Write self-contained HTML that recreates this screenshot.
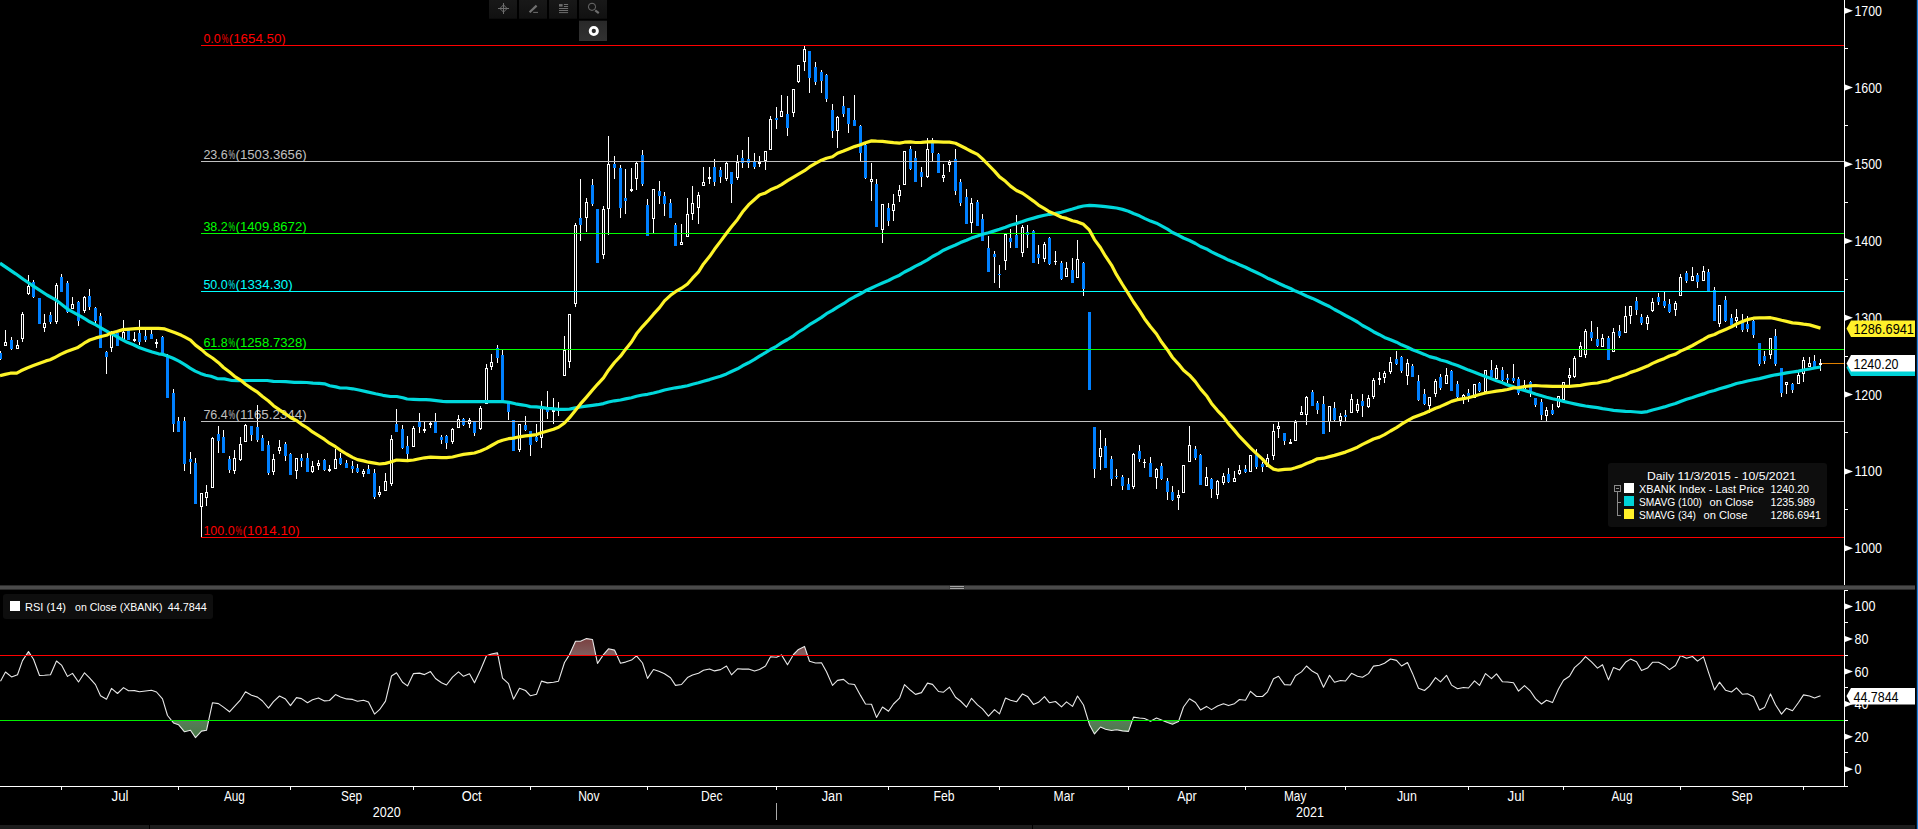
<!DOCTYPE html><html><head><meta charset="utf-8"><title>XBANK Index</title>
<style>html,body{margin:0;padding:0;background:#000;overflow:hidden}svg{display:block}text{font-family:"Liberation Sans",sans-serif}</style></head><body>
<svg width="1918" height="829" viewBox="0 0 1918 829">
<rect width="1918" height="829" fill="#000"/>
<defs><linearGradient id="gr" gradientUnits="userSpaceOnUse" x1="0" y1="636" x2="0" y2="656"><stop offset="0" stop-color="#7a3c3c"/><stop offset="1" stop-color="#806060"/></linearGradient><linearGradient id="gg" gradientUnits="userSpaceOnUse" x1="0" y1="720" x2="0" y2="740"><stop offset="0" stop-color="#5a7c5a"/><stop offset="1" stop-color="#427a42"/></linearGradient></defs>
<defs><linearGradient id="bt" x1="0" y1="0" x2="0" y2="1"><stop offset="0" stop-color="#181818"/><stop offset="1" stop-color="#111"/></linearGradient><linearGradient id="bt2" x1="0" y1="0" x2="0" y2="1"><stop offset="0" stop-color="#292929"/><stop offset="1" stop-color="#313131"/></linearGradient></defs>
<g>
<rect x="489" y="0" width="28" height="18.7" fill="url(#bt)"/>
<rect x="519" y="0" width="28" height="18.7" fill="url(#bt)"/>
<rect x="549" y="0" width="28" height="18.7" fill="url(#bt)"/>
<rect x="579" y="0" width="28" height="18.7" fill="url(#bt)"/>
<rect x="579" y="20.7" width="28" height="20.3" fill="url(#bt2)"/>
<g stroke="#6e6e6e" fill="none" stroke-width="1">
<path d="M503.5 3v11M498 8.5h11M503.5 4.9l3.6 3.6l-3.6 3.6l-3.6-3.6z"/>
<path d="M529.6 12.2l7-6.6" stroke-width="2.2" stroke="#707070"/><path d="M533.2 12.4h4.8"/>
<path d="M563.9 4.5h4.2M563.9 6.5h4.2M559 8.5h9.1M559 10.5h9.1M559 12.6h9.1"/><rect x="559" y="4.1" width="3.6" height="2.5" fill="#6e6e6e" stroke="none"/>
<circle cx="592" cy="6.8" r="3.6"/><path d="M595.2 10.4l3.6 2.8" stroke-width="2.1"/>
</g>
<circle cx="593.8" cy="31" r="3.6" fill="none" stroke="#fff" stroke-width="2.9"/>
</g>
<g font-size="12.5px">
<text y="43" fill="#ff0000"><tspan x="203.4">0.0</tspan><tspan x="221.7" textLength="6.6" lengthAdjust="spacingAndGlyphs">%</tspan><tspan x="228.7" textLength="57.1" lengthAdjust="spacingAndGlyphs">(1654.50)</tspan></text>
<text y="159" fill="#c0c0c0"><tspan x="203.4">23.6</tspan><tspan x="228.6" textLength="6.6" lengthAdjust="spacingAndGlyphs">%</tspan><tspan x="235.6" textLength="71.0" lengthAdjust="spacingAndGlyphs">(1503.3656)</tspan></text>
<text y="231" fill="#00ff00"><tspan x="203.4">38.2</tspan><tspan x="228.6" textLength="6.6" lengthAdjust="spacingAndGlyphs">%</tspan><tspan x="235.6" textLength="71.0" lengthAdjust="spacingAndGlyphs">(1409.8672)</tspan></text>
<text y="289" fill="#00ffff"><tspan x="203.4">50.0</tspan><tspan x="228.6" textLength="6.6" lengthAdjust="spacingAndGlyphs">%</tspan><tspan x="235.6" textLength="57.1" lengthAdjust="spacingAndGlyphs">(1334.30)</tspan></text>
<text y="347" fill="#00ff00"><tspan x="203.4">61.8</tspan><tspan x="228.6" textLength="6.6" lengthAdjust="spacingAndGlyphs">%</tspan><tspan x="235.6" textLength="71.0" lengthAdjust="spacingAndGlyphs">(1258.7328)</tspan></text>
<text y="419" fill="#c0c0c0"><tspan x="203.4">76.4</tspan><tspan x="228.6" textLength="6.6" lengthAdjust="spacingAndGlyphs">%</tspan><tspan x="235.6" textLength="71.0" lengthAdjust="spacingAndGlyphs">(1165.2344)</tspan></text>
<text y="535" fill="#ff0000"><tspan x="203.4">100.0</tspan><tspan x="235.6" textLength="6.6" lengthAdjust="spacingAndGlyphs">%</tspan><tspan x="242.6" textLength="57.1" lengthAdjust="spacingAndGlyphs">(1014.10)</tspan></text>
</g>
<g shape-rendering="crispEdges">
<rect x="0" y="351" width="1" height="9" fill="#fff"/>
<rect x="-1" y="353" width="3" height="6" fill="#0080ff"/>
<rect x="5" y="330" width="1" height="12" fill="#fff"/>
<rect x="4" y="342" width="3" height="4" fill="#fff"/>
<rect x="5" y="343" width="1" height="2" fill="#000"/>
<rect x="11" y="337" width="1" height="13" fill="#fff"/>
<rect x="10" y="340" width="3" height="9" fill="#0080ff"/>
<rect x="17" y="340" width="1" height="5" fill="#fff"/>
<rect x="16" y="345" width="3" height="4" fill="#fff"/>
<rect x="17" y="346" width="1" height="2" fill="#000"/>
<rect x="22" y="312" width="1" height="2" fill="#fff"/>
<rect x="22" y="339" width="1" height="3" fill="#fff"/>
<rect x="21" y="314" width="3" height="25" fill="#fff"/>
<rect x="22" y="315" width="1" height="23" fill="#000"/>
<rect x="28" y="275" width="1" height="11" fill="#fff"/>
<rect x="28" y="294" width="1" height="1" fill="#fff"/>
<rect x="27" y="286" width="3" height="8" fill="#fff"/>
<rect x="28" y="287" width="1" height="6" fill="#000"/>
<rect x="33" y="280" width="1" height="18" fill="#fff"/>
<rect x="32" y="282" width="3" height="15" fill="#0080ff"/>
<rect x="39" y="298" width="1" height="26" fill="#fff"/>
<rect x="38" y="298" width="3" height="26" fill="#0080ff"/>
<rect x="44" y="314" width="1" height="9" fill="#fff"/>
<rect x="44" y="328" width="1" height="4" fill="#fff"/>
<rect x="43" y="323" width="3" height="5" fill="#fff"/>
<rect x="44" y="324" width="1" height="3" fill="#000"/>
<rect x="50" y="312" width="1" height="12" fill="#fff"/>
<rect x="49" y="315" width="3" height="7" fill="#0080ff"/>
<rect x="56" y="283" width="1" height="2" fill="#fff"/>
<rect x="56" y="322" width="1" height="2" fill="#fff"/>
<rect x="55" y="285" width="3" height="37" fill="#fff"/>
<rect x="56" y="286" width="1" height="35" fill="#000"/>
<rect x="61" y="274" width="1" height="18" fill="#fff"/>
<rect x="60" y="277" width="3" height="15" fill="#0080ff"/>
<rect x="67" y="281" width="1" height="32" fill="#fff"/>
<rect x="66" y="283" width="3" height="29" fill="#0080ff"/>
<rect x="72" y="297" width="1" height="7" fill="#fff"/>
<rect x="71" y="304" width="3" height="5" fill="#fff"/>
<rect x="72" y="305" width="1" height="3" fill="#000"/>
<rect x="78" y="301" width="1" height="25" fill="#fff"/>
<rect x="77" y="302" width="3" height="19" fill="#0080ff"/>
<rect x="84" y="296" width="1" height="1" fill="#fff"/>
<rect x="84" y="311" width="1" height="2" fill="#fff"/>
<rect x="83" y="297" width="3" height="14" fill="#fff"/>
<rect x="84" y="298" width="1" height="12" fill="#000"/>
<rect x="89" y="289" width="1" height="21" fill="#fff"/>
<rect x="88" y="296" width="3" height="11" fill="#0080ff"/>
<rect x="95" y="307" width="1" height="16" fill="#fff"/>
<rect x="94" y="308" width="3" height="13" fill="#0080ff"/>
<rect x="100" y="313" width="1" height="35" fill="#fff"/>
<rect x="99" y="316" width="3" height="32" fill="#0080ff"/>
<rect x="106" y="351" width="1" height="23" fill="#fff"/>
<rect x="105" y="352" width="3" height="5" fill="#0080ff"/>
<rect x="111" y="331" width="1" height="2" fill="#fff"/>
<rect x="111" y="348" width="1" height="4" fill="#fff"/>
<rect x="110" y="333" width="3" height="15" fill="#fff"/>
<rect x="111" y="334" width="1" height="13" fill="#000"/>
<rect x="117" y="333" width="1" height="13" fill="#fff"/>
<rect x="116" y="333" width="3" height="13" fill="#0080ff"/>
<rect x="123" y="320" width="1" height="12" fill="#fff"/>
<rect x="122" y="332" width="3" height="8" fill="#fff"/>
<rect x="123" y="333" width="1" height="6" fill="#000"/>
<rect x="128" y="330" width="1" height="10" fill="#fff"/>
<rect x="127" y="330" width="3" height="10" fill="#0080ff"/>
<rect x="134" y="332" width="1" height="7" fill="#fff"/>
<rect x="134" y="341" width="1" height="1" fill="#fff"/>
<rect x="133" y="339" width="3" height="2" fill="#fff"/>
<rect x="139" y="320" width="1" height="25" fill="#fff"/>
<rect x="138" y="333" width="3" height="9" fill="#0080ff"/>
<rect x="145" y="330" width="1" height="12" fill="#fff"/>
<rect x="144" y="336" width="3" height="4" fill="#0080ff"/>
<rect x="151" y="330" width="1" height="9" fill="#fff"/>
<rect x="150" y="334" width="3" height="5" fill="#0080ff"/>
<rect x="156" y="339" width="1" height="3" fill="#fff"/>
<rect x="156" y="344" width="1" height="4" fill="#fff"/>
<rect x="155" y="342" width="3" height="2" fill="#fff"/>
<rect x="162" y="336" width="1" height="19" fill="#fff"/>
<rect x="161" y="337" width="3" height="18" fill="#0080ff"/>
<rect x="167" y="354" width="1" height="44" fill="#fff"/>
<rect x="166" y="355" width="3" height="43" fill="#0080ff"/>
<rect x="173" y="389" width="1" height="43" fill="#fff"/>
<rect x="172" y="393" width="3" height="31" fill="#0080ff"/>
<rect x="178" y="417" width="1" height="15" fill="#fff"/>
<rect x="177" y="421" width="3" height="11" fill="#0080ff"/>
<rect x="184" y="417" width="1" height="54" fill="#fff"/>
<rect x="183" y="421" width="3" height="43" fill="#0080ff"/>
<rect x="190" y="452" width="1" height="22" fill="#fff"/>
<rect x="189" y="459" width="3" height="3" fill="#0080ff"/>
<rect x="195" y="458" width="1" height="46" fill="#fff"/>
<rect x="194" y="463" width="3" height="41" fill="#0080ff"/>
<rect x="201" y="507" width="1" height="30" fill="#fff"/>
<rect x="200" y="493" width="3" height="14" fill="#fff"/>
<rect x="201" y="494" width="1" height="12" fill="#000"/>
<rect x="206" y="485" width="1" height="7" fill="#fff"/>
<rect x="206" y="498" width="1" height="8" fill="#fff"/>
<rect x="205" y="492" width="3" height="6" fill="#fff"/>
<rect x="206" y="493" width="1" height="4" fill="#000"/>
<rect x="212" y="437" width="1" height="1" fill="#fff"/>
<rect x="211" y="438" width="3" height="50" fill="#fff"/>
<rect x="212" y="439" width="1" height="48" fill="#000"/>
<rect x="218" y="426" width="1" height="27" fill="#fff"/>
<rect x="217" y="434" width="3" height="7" fill="#0080ff"/>
<rect x="223" y="430" width="1" height="23" fill="#fff"/>
<rect x="222" y="437" width="3" height="16" fill="#0080ff"/>
<rect x="229" y="456" width="1" height="17" fill="#fff"/>
<rect x="228" y="459" width="3" height="11" fill="#0080ff"/>
<rect x="234" y="450" width="1" height="8" fill="#fff"/>
<rect x="234" y="471" width="1" height="3" fill="#fff"/>
<rect x="233" y="458" width="3" height="13" fill="#fff"/>
<rect x="234" y="459" width="1" height="11" fill="#000"/>
<rect x="240" y="437" width="1" height="7" fill="#fff"/>
<rect x="240" y="460" width="1" height="1" fill="#fff"/>
<rect x="239" y="444" width="3" height="16" fill="#fff"/>
<rect x="240" y="445" width="1" height="14" fill="#000"/>
<rect x="245" y="424" width="1" height="1" fill="#fff"/>
<rect x="244" y="425" width="3" height="17" fill="#fff"/>
<rect x="245" y="426" width="1" height="15" fill="#000"/>
<rect x="251" y="426" width="1" height="15" fill="#fff"/>
<rect x="250" y="426" width="3" height="9" fill="#0080ff"/>
<rect x="257" y="405" width="1" height="37" fill="#fff"/>
<rect x="256" y="427" width="3" height="13" fill="#0080ff"/>
<rect x="262" y="435" width="1" height="16" fill="#fff"/>
<rect x="261" y="438" width="3" height="13" fill="#0080ff"/>
<rect x="268" y="441" width="1" height="34" fill="#fff"/>
<rect x="267" y="445" width="3" height="28" fill="#0080ff"/>
<rect x="273" y="454" width="1" height="5" fill="#fff"/>
<rect x="273" y="472" width="1" height="3" fill="#fff"/>
<rect x="272" y="459" width="3" height="13" fill="#fff"/>
<rect x="273" y="460" width="1" height="11" fill="#000"/>
<rect x="279" y="440" width="1" height="7" fill="#fff"/>
<rect x="279" y="451" width="1" height="3" fill="#fff"/>
<rect x="278" y="447" width="3" height="4" fill="#fff"/>
<rect x="279" y="448" width="1" height="2" fill="#000"/>
<rect x="285" y="442" width="1" height="19" fill="#fff"/>
<rect x="284" y="444" width="3" height="12" fill="#0080ff"/>
<rect x="290" y="453" width="1" height="22" fill="#fff"/>
<rect x="289" y="454" width="3" height="21" fill="#0080ff"/>
<rect x="296" y="471" width="1" height="8" fill="#fff"/>
<rect x="295" y="458" width="3" height="13" fill="#fff"/>
<rect x="296" y="459" width="1" height="11" fill="#000"/>
<rect x="301" y="454" width="1" height="13" fill="#fff"/>
<rect x="300" y="458" width="3" height="3" fill="#0080ff"/>
<rect x="307" y="453" width="1" height="19" fill="#fff"/>
<rect x="306" y="458" width="3" height="14" fill="#0080ff"/>
<rect x="312" y="461" width="1" height="5" fill="#fff"/>
<rect x="312" y="472" width="1" height="1" fill="#fff"/>
<rect x="311" y="466" width="3" height="6" fill="#fff"/>
<rect x="312" y="467" width="1" height="4" fill="#000"/>
<rect x="318" y="460" width="1" height="3" fill="#fff"/>
<rect x="318" y="466" width="1" height="4" fill="#fff"/>
<rect x="317" y="463" width="3" height="3" fill="#fff"/>
<rect x="318" y="464" width="1" height="1" fill="#000"/>
<rect x="324" y="459" width="1" height="12" fill="#fff"/>
<rect x="323" y="460" width="3" height="10" fill="#0080ff"/>
<rect x="329" y="465" width="1" height="4" fill="#fff"/>
<rect x="329" y="471" width="1" height="1" fill="#fff"/>
<rect x="328" y="469" width="3" height="2" fill="#fff"/>
<rect x="335" y="449" width="1" height="10" fill="#fff"/>
<rect x="334" y="459" width="3" height="10" fill="#fff"/>
<rect x="335" y="460" width="1" height="8" fill="#000"/>
<rect x="340" y="453" width="1" height="12" fill="#fff"/>
<rect x="339" y="458" width="3" height="6" fill="#0080ff"/>
<rect x="346" y="460" width="1" height="8" fill="#fff"/>
<rect x="345" y="463" width="3" height="5" fill="#0080ff"/>
<rect x="352" y="461" width="1" height="12" fill="#fff"/>
<rect x="351" y="466" width="3" height="3" fill="#0080ff"/>
<rect x="357" y="464" width="1" height="9" fill="#fff"/>
<rect x="356" y="468" width="3" height="4" fill="#0080ff"/>
<rect x="363" y="469" width="1" height="2" fill="#fff"/>
<rect x="363" y="474" width="1" height="3" fill="#fff"/>
<rect x="362" y="471" width="3" height="3" fill="#fff"/>
<rect x="363" y="472" width="1" height="1" fill="#000"/>
<rect x="368" y="465" width="1" height="9" fill="#fff"/>
<rect x="367" y="469" width="3" height="5" fill="#0080ff"/>
<rect x="374" y="469" width="1" height="30" fill="#fff"/>
<rect x="373" y="473" width="3" height="24" fill="#0080ff"/>
<rect x="379" y="486" width="1" height="6" fill="#fff"/>
<rect x="379" y="495" width="1" height="2" fill="#fff"/>
<rect x="378" y="492" width="3" height="3" fill="#fff"/>
<rect x="379" y="493" width="1" height="1" fill="#000"/>
<rect x="385" y="473" width="1" height="8" fill="#fff"/>
<rect x="384" y="481" width="3" height="10" fill="#fff"/>
<rect x="385" y="482" width="1" height="8" fill="#000"/>
<rect x="391" y="435" width="1" height="4" fill="#fff"/>
<rect x="391" y="484" width="1" height="2" fill="#fff"/>
<rect x="390" y="439" width="3" height="45" fill="#fff"/>
<rect x="391" y="440" width="1" height="43" fill="#000"/>
<rect x="396" y="409" width="1" height="23" fill="#fff"/>
<rect x="395" y="424" width="3" height="8" fill="#0080ff"/>
<rect x="402" y="425" width="1" height="24" fill="#fff"/>
<rect x="401" y="429" width="3" height="19" fill="#0080ff"/>
<rect x="407" y="436" width="1" height="23" fill="#fff"/>
<rect x="406" y="446" width="3" height="8" fill="#0080ff"/>
<rect x="413" y="426" width="1" height="2" fill="#fff"/>
<rect x="412" y="428" width="3" height="19" fill="#fff"/>
<rect x="413" y="429" width="1" height="17" fill="#000"/>
<rect x="419" y="413" width="1" height="20" fill="#fff"/>
<rect x="418" y="422" width="3" height="5" fill="#0080ff"/>
<rect x="424" y="422" width="1" height="7" fill="#fff"/>
<rect x="424" y="431" width="1" height="2" fill="#fff"/>
<rect x="423" y="429" width="3" height="2" fill="#fff"/>
<rect x="430" y="421" width="1" height="2" fill="#fff"/>
<rect x="430" y="425" width="1" height="3" fill="#fff"/>
<rect x="429" y="423" width="3" height="2" fill="#fff"/>
<rect x="435" y="413" width="1" height="20" fill="#fff"/>
<rect x="434" y="422" width="3" height="11" fill="#0080ff"/>
<rect x="441" y="435" width="1" height="9" fill="#fff"/>
<rect x="440" y="437" width="3" height="3" fill="#0080ff"/>
<rect x="446" y="435" width="1" height="14" fill="#fff"/>
<rect x="445" y="436" width="3" height="7" fill="#0080ff"/>
<rect x="452" y="428" width="1" height="1" fill="#fff"/>
<rect x="452" y="442" width="1" height="2" fill="#fff"/>
<rect x="451" y="429" width="3" height="13" fill="#fff"/>
<rect x="452" y="430" width="1" height="11" fill="#000"/>
<rect x="458" y="415" width="1" height="4" fill="#fff"/>
<rect x="457" y="419" width="3" height="9" fill="#fff"/>
<rect x="458" y="420" width="1" height="7" fill="#000"/>
<rect x="463" y="418" width="1" height="8" fill="#fff"/>
<rect x="462" y="419" width="3" height="6" fill="#0080ff"/>
<rect x="469" y="418" width="1" height="2" fill="#fff"/>
<rect x="469" y="424" width="1" height="4" fill="#fff"/>
<rect x="468" y="420" width="3" height="4" fill="#fff"/>
<rect x="469" y="421" width="1" height="2" fill="#000"/>
<rect x="474" y="422" width="1" height="14" fill="#fff"/>
<rect x="473" y="422" width="3" height="11" fill="#0080ff"/>
<rect x="480" y="406" width="1" height="2" fill="#fff"/>
<rect x="480" y="429" width="1" height="1" fill="#fff"/>
<rect x="479" y="408" width="3" height="21" fill="#fff"/>
<rect x="480" y="409" width="1" height="19" fill="#000"/>
<rect x="486" y="364" width="1" height="4" fill="#fff"/>
<rect x="485" y="368" width="3" height="36" fill="#fff"/>
<rect x="486" y="369" width="1" height="34" fill="#000"/>
<rect x="491" y="354" width="1" height="8" fill="#fff"/>
<rect x="491" y="367" width="1" height="3" fill="#fff"/>
<rect x="490" y="362" width="3" height="5" fill="#fff"/>
<rect x="491" y="363" width="1" height="3" fill="#000"/>
<rect x="497" y="345" width="1" height="18" fill="#fff"/>
<rect x="496" y="348" width="3" height="10" fill="#0080ff"/>
<rect x="502" y="350" width="1" height="50" fill="#fff"/>
<rect x="501" y="355" width="3" height="45" fill="#0080ff"/>
<rect x="508" y="403" width="1" height="17" fill="#fff"/>
<rect x="507" y="403" width="3" height="9" fill="#0080ff"/>
<rect x="513" y="420" width="1" height="31" fill="#fff"/>
<rect x="512" y="420" width="3" height="31" fill="#0080ff"/>
<rect x="519" y="450" width="1" height="2" fill="#fff"/>
<rect x="518" y="424" width="3" height="26" fill="#fff"/>
<rect x="519" y="425" width="1" height="24" fill="#000"/>
<rect x="525" y="416" width="1" height="15" fill="#fff"/>
<rect x="524" y="425" width="3" height="5" fill="#0080ff"/>
<rect x="530" y="431" width="1" height="25" fill="#fff"/>
<rect x="529" y="431" width="3" height="14" fill="#0080ff"/>
<rect x="536" y="424" width="1" height="18" fill="#fff"/>
<rect x="535" y="437" width="3" height="4" fill="#0080ff"/>
<rect x="541" y="401" width="1" height="7" fill="#fff"/>
<rect x="541" y="438" width="1" height="10" fill="#fff"/>
<rect x="540" y="408" width="3" height="30" fill="#fff"/>
<rect x="541" y="409" width="1" height="28" fill="#000"/>
<rect x="547" y="391" width="1" height="28" fill="#fff"/>
<rect x="546" y="410" width="3" height="2" fill="#0080ff"/>
<rect x="553" y="398" width="1" height="12" fill="#fff"/>
<rect x="553" y="412" width="1" height="12" fill="#fff"/>
<rect x="552" y="410" width="3" height="2" fill="#fff"/>
<rect x="558" y="402" width="1" height="6" fill="#fff"/>
<rect x="558" y="411" width="1" height="5" fill="#fff"/>
<rect x="557" y="408" width="3" height="3" fill="#fff"/>
<rect x="558" y="409" width="1" height="1" fill="#000"/>
<rect x="564" y="336" width="1" height="14" fill="#fff"/>
<rect x="563" y="350" width="3" height="26" fill="#fff"/>
<rect x="564" y="351" width="1" height="24" fill="#000"/>
<rect x="569" y="362" width="1" height="6" fill="#fff"/>
<rect x="568" y="314" width="3" height="48" fill="#fff"/>
<rect x="569" y="315" width="1" height="46" fill="#000"/>
<rect x="575" y="223" width="1" height="2" fill="#fff"/>
<rect x="575" y="304" width="1" height="3" fill="#fff"/>
<rect x="574" y="225" width="3" height="79" fill="#fff"/>
<rect x="575" y="226" width="1" height="77" fill="#000"/>
<rect x="580" y="179" width="1" height="62" fill="#fff"/>
<rect x="579" y="218" width="3" height="7" fill="#0080ff"/>
<rect x="586" y="198" width="1" height="4" fill="#fff"/>
<rect x="586" y="218" width="1" height="14" fill="#fff"/>
<rect x="585" y="202" width="3" height="16" fill="#fff"/>
<rect x="586" y="203" width="1" height="14" fill="#000"/>
<rect x="592" y="179" width="1" height="27" fill="#fff"/>
<rect x="591" y="185" width="3" height="19" fill="#0080ff"/>
<rect x="597" y="209" width="1" height="54" fill="#fff"/>
<rect x="596" y="209" width="3" height="54" fill="#0080ff"/>
<rect x="603" y="206" width="1" height="3" fill="#fff"/>
<rect x="603" y="255" width="1" height="4" fill="#fff"/>
<rect x="602" y="209" width="3" height="46" fill="#fff"/>
<rect x="603" y="210" width="1" height="44" fill="#000"/>
<rect x="608" y="136" width="1" height="28" fill="#fff"/>
<rect x="608" y="209" width="1" height="26" fill="#fff"/>
<rect x="607" y="164" width="3" height="45" fill="#fff"/>
<rect x="608" y="165" width="1" height="43" fill="#000"/>
<rect x="614" y="156" width="1" height="23" fill="#fff"/>
<rect x="613" y="164" width="3" height="4" fill="#0080ff"/>
<rect x="620" y="165" width="1" height="53" fill="#fff"/>
<rect x="619" y="168" width="3" height="40" fill="#0080ff"/>
<rect x="625" y="169" width="1" height="45" fill="#fff"/>
<rect x="624" y="198" width="3" height="3" fill="#0080ff"/>
<rect x="631" y="168" width="1" height="21" fill="#fff"/>
<rect x="631" y="191" width="1" height="1" fill="#fff"/>
<rect x="630" y="189" width="3" height="2" fill="#fff"/>
<rect x="636" y="162" width="1" height="1" fill="#fff"/>
<rect x="636" y="179" width="1" height="11" fill="#fff"/>
<rect x="635" y="163" width="3" height="16" fill="#fff"/>
<rect x="636" y="164" width="1" height="14" fill="#000"/>
<rect x="642" y="150" width="1" height="36" fill="#fff"/>
<rect x="641" y="155" width="3" height="29" fill="#0080ff"/>
<rect x="647" y="199" width="1" height="37" fill="#fff"/>
<rect x="646" y="205" width="3" height="31" fill="#0080ff"/>
<rect x="653" y="219" width="1" height="14" fill="#fff"/>
<rect x="652" y="189" width="3" height="30" fill="#fff"/>
<rect x="653" y="190" width="1" height="28" fill="#000"/>
<rect x="659" y="181" width="1" height="23" fill="#fff"/>
<rect x="658" y="191" width="3" height="5" fill="#0080ff"/>
<rect x="664" y="192" width="1" height="24" fill="#fff"/>
<rect x="663" y="196" width="3" height="8" fill="#0080ff"/>
<rect x="670" y="199" width="1" height="19" fill="#fff"/>
<rect x="669" y="203" width="3" height="15" fill="#0080ff"/>
<rect x="675" y="223" width="1" height="23" fill="#fff"/>
<rect x="674" y="225" width="3" height="21" fill="#0080ff"/>
<rect x="681" y="224" width="1" height="18" fill="#fff"/>
<rect x="680" y="242" width="3" height="3" fill="#fff"/>
<rect x="681" y="243" width="1" height="1" fill="#000"/>
<rect x="687" y="198" width="1" height="16" fill="#fff"/>
<rect x="686" y="214" width="3" height="23" fill="#fff"/>
<rect x="687" y="215" width="1" height="21" fill="#000"/>
<rect x="692" y="186" width="1" height="17" fill="#fff"/>
<rect x="692" y="214" width="1" height="6" fill="#fff"/>
<rect x="691" y="203" width="3" height="11" fill="#fff"/>
<rect x="692" y="204" width="1" height="9" fill="#000"/>
<rect x="698" y="192" width="1" height="3" fill="#fff"/>
<rect x="698" y="208" width="1" height="16" fill="#fff"/>
<rect x="697" y="195" width="3" height="13" fill="#fff"/>
<rect x="698" y="196" width="1" height="11" fill="#000"/>
<rect x="703" y="167" width="1" height="15" fill="#fff"/>
<rect x="702" y="182" width="3" height="4" fill="#fff"/>
<rect x="703" y="183" width="1" height="2" fill="#000"/>
<rect x="709" y="167" width="1" height="10" fill="#fff"/>
<rect x="709" y="179" width="1" height="5" fill="#fff"/>
<rect x="708" y="177" width="3" height="2" fill="#fff"/>
<rect x="714" y="159" width="1" height="27" fill="#fff"/>
<rect x="713" y="167" width="3" height="15" fill="#0080ff"/>
<rect x="720" y="167" width="1" height="16" fill="#fff"/>
<rect x="719" y="170" width="3" height="7" fill="#0080ff"/>
<rect x="726" y="162" width="1" height="1" fill="#fff"/>
<rect x="726" y="179" width="1" height="2" fill="#fff"/>
<rect x="725" y="163" width="3" height="16" fill="#fff"/>
<rect x="726" y="164" width="1" height="14" fill="#000"/>
<rect x="731" y="172" width="1" height="31" fill="#fff"/>
<rect x="730" y="172" width="3" height="12" fill="#0080ff"/>
<rect x="737" y="155" width="1" height="7" fill="#fff"/>
<rect x="737" y="178" width="1" height="2" fill="#fff"/>
<rect x="736" y="162" width="3" height="16" fill="#fff"/>
<rect x="737" y="163" width="1" height="14" fill="#000"/>
<rect x="742" y="150" width="1" height="18" fill="#fff"/>
<rect x="741" y="158" width="3" height="5" fill="#0080ff"/>
<rect x="748" y="137" width="1" height="31" fill="#fff"/>
<rect x="747" y="159" width="3" height="4" fill="#0080ff"/>
<rect x="754" y="153" width="1" height="16" fill="#fff"/>
<rect x="753" y="161" width="3" height="6" fill="#0080ff"/>
<rect x="759" y="156" width="1" height="6" fill="#fff"/>
<rect x="759" y="164" width="1" height="3" fill="#fff"/>
<rect x="758" y="162" width="3" height="2" fill="#fff"/>
<rect x="765" y="161" width="1" height="9" fill="#fff"/>
<rect x="764" y="151" width="3" height="10" fill="#fff"/>
<rect x="765" y="152" width="1" height="8" fill="#000"/>
<rect x="770" y="116" width="1" height="3" fill="#fff"/>
<rect x="769" y="119" width="3" height="31" fill="#fff"/>
<rect x="770" y="120" width="1" height="29" fill="#000"/>
<rect x="776" y="107" width="1" height="22" fill="#fff"/>
<rect x="775" y="118" width="3" height="2" fill="#0080ff"/>
<rect x="781" y="95" width="1" height="16" fill="#fff"/>
<rect x="780" y="111" width="3" height="6" fill="#fff"/>
<rect x="781" y="112" width="1" height="4" fill="#000"/>
<rect x="787" y="96" width="1" height="40" fill="#fff"/>
<rect x="786" y="114" width="3" height="14" fill="#0080ff"/>
<rect x="793" y="113" width="1" height="4" fill="#fff"/>
<rect x="792" y="89" width="3" height="24" fill="#fff"/>
<rect x="793" y="90" width="1" height="22" fill="#000"/>
<rect x="798" y="82" width="1" height="1" fill="#fff"/>
<rect x="797" y="65" width="3" height="17" fill="#fff"/>
<rect x="798" y="66" width="1" height="15" fill="#000"/>
<rect x="804" y="46" width="1" height="3" fill="#fff"/>
<rect x="804" y="62" width="1" height="9" fill="#fff"/>
<rect x="803" y="49" width="3" height="13" fill="#fff"/>
<rect x="804" y="50" width="1" height="11" fill="#000"/>
<rect x="809" y="51" width="1" height="42" fill="#fff"/>
<rect x="808" y="51" width="3" height="27" fill="#0080ff"/>
<rect x="815" y="62" width="1" height="23" fill="#fff"/>
<rect x="814" y="67" width="3" height="15" fill="#0080ff"/>
<rect x="821" y="70" width="1" height="23" fill="#fff"/>
<rect x="820" y="72" width="3" height="9" fill="#0080ff"/>
<rect x="826" y="74" width="1" height="28" fill="#fff"/>
<rect x="825" y="75" width="3" height="24" fill="#0080ff"/>
<rect x="832" y="104" width="1" height="34" fill="#fff"/>
<rect x="831" y="110" width="3" height="21" fill="#0080ff"/>
<rect x="837" y="116" width="1" height="1" fill="#fff"/>
<rect x="837" y="131" width="1" height="17" fill="#fff"/>
<rect x="836" y="117" width="3" height="14" fill="#fff"/>
<rect x="837" y="118" width="1" height="12" fill="#000"/>
<rect x="843" y="96" width="1" height="21" fill="#fff"/>
<rect x="842" y="106" width="3" height="8" fill="#0080ff"/>
<rect x="848" y="108" width="1" height="25" fill="#fff"/>
<rect x="847" y="108" width="3" height="16" fill="#0080ff"/>
<rect x="854" y="95" width="1" height="31" fill="#fff"/>
<rect x="853" y="120" width="3" height="6" fill="#0080ff"/>
<rect x="860" y="125" width="1" height="36" fill="#fff"/>
<rect x="859" y="126" width="3" height="27" fill="#0080ff"/>
<rect x="865" y="143" width="1" height="36" fill="#fff"/>
<rect x="864" y="145" width="3" height="33" fill="#0080ff"/>
<rect x="871" y="163" width="1" height="16" fill="#fff"/>
<rect x="871" y="182" width="1" height="19" fill="#fff"/>
<rect x="870" y="179" width="3" height="3" fill="#fff"/>
<rect x="871" y="180" width="1" height="1" fill="#000"/>
<rect x="876" y="179" width="1" height="48" fill="#fff"/>
<rect x="875" y="184" width="3" height="43" fill="#0080ff"/>
<rect x="882" y="230" width="1" height="13" fill="#fff"/>
<rect x="881" y="204" width="3" height="26" fill="#fff"/>
<rect x="882" y="205" width="1" height="24" fill="#000"/>
<rect x="888" y="203" width="1" height="23" fill="#fff"/>
<rect x="887" y="208" width="3" height="13" fill="#0080ff"/>
<rect x="893" y="194" width="1" height="10" fill="#fff"/>
<rect x="893" y="211" width="1" height="10" fill="#fff"/>
<rect x="892" y="204" width="3" height="7" fill="#fff"/>
<rect x="893" y="205" width="1" height="5" fill="#000"/>
<rect x="899" y="185" width="1" height="5" fill="#fff"/>
<rect x="899" y="196" width="1" height="6" fill="#fff"/>
<rect x="898" y="190" width="3" height="6" fill="#fff"/>
<rect x="899" y="191" width="1" height="4" fill="#000"/>
<rect x="903" y="151" width="3" height="34" fill="#fff"/>
<rect x="904" y="152" width="1" height="32" fill="#000"/>
<rect x="910" y="146" width="1" height="24" fill="#fff"/>
<rect x="909" y="149" width="3" height="20" fill="#0080ff"/>
<rect x="915" y="151" width="1" height="31" fill="#fff"/>
<rect x="914" y="158" width="3" height="24" fill="#0080ff"/>
<rect x="921" y="167" width="1" height="20" fill="#fff"/>
<rect x="920" y="172" width="3" height="5" fill="#0080ff"/>
<rect x="927" y="138" width="1" height="11" fill="#fff"/>
<rect x="927" y="177" width="1" height="1" fill="#fff"/>
<rect x="926" y="149" width="3" height="28" fill="#fff"/>
<rect x="927" y="150" width="1" height="26" fill="#000"/>
<rect x="932" y="138" width="1" height="23" fill="#fff"/>
<rect x="931" y="143" width="3" height="10" fill="#0080ff"/>
<rect x="938" y="153" width="1" height="20" fill="#fff"/>
<rect x="937" y="154" width="3" height="19" fill="#0080ff"/>
<rect x="943" y="164" width="1" height="11" fill="#fff"/>
<rect x="943" y="178" width="1" height="4" fill="#fff"/>
<rect x="942" y="175" width="3" height="3" fill="#fff"/>
<rect x="943" y="176" width="1" height="1" fill="#000"/>
<rect x="949" y="160" width="1" height="2" fill="#fff"/>
<rect x="949" y="165" width="1" height="7" fill="#fff"/>
<rect x="948" y="162" width="3" height="3" fill="#fff"/>
<rect x="949" y="163" width="1" height="1" fill="#000"/>
<rect x="955" y="149" width="1" height="46" fill="#fff"/>
<rect x="954" y="159" width="3" height="32" fill="#0080ff"/>
<rect x="960" y="179" width="1" height="27" fill="#fff"/>
<rect x="959" y="182" width="3" height="21" fill="#0080ff"/>
<rect x="966" y="189" width="1" height="35" fill="#fff"/>
<rect x="965" y="197" width="3" height="27" fill="#0080ff"/>
<rect x="971" y="198" width="1" height="5" fill="#fff"/>
<rect x="971" y="223" width="1" height="10" fill="#fff"/>
<rect x="970" y="203" width="3" height="20" fill="#fff"/>
<rect x="971" y="204" width="1" height="18" fill="#000"/>
<rect x="977" y="200" width="1" height="26" fill="#fff"/>
<rect x="976" y="202" width="3" height="24" fill="#0080ff"/>
<rect x="982" y="214" width="1" height="27" fill="#fff"/>
<rect x="981" y="219" width="3" height="22" fill="#0080ff"/>
<rect x="988" y="236" width="1" height="36" fill="#fff"/>
<rect x="987" y="248" width="3" height="24" fill="#0080ff"/>
<rect x="994" y="251" width="1" height="32" fill="#fff"/>
<rect x="993" y="254" width="3" height="3" fill="#0080ff"/>
<rect x="999" y="265" width="1" height="23" fill="#fff"/>
<rect x="998" y="274" width="3" height="1" fill="#0080ff"/>
<rect x="1005" y="261" width="1" height="9" fill="#fff"/>
<rect x="1004" y="234" width="3" height="27" fill="#fff"/>
<rect x="1005" y="235" width="1" height="25" fill="#000"/>
<rect x="1010" y="229" width="1" height="19" fill="#fff"/>
<rect x="1009" y="238" width="3" height="4" fill="#0080ff"/>
<rect x="1016" y="215" width="1" height="33" fill="#fff"/>
<rect x="1015" y="235" width="3" height="13" fill="#0080ff"/>
<rect x="1022" y="225" width="1" height="2" fill="#fff"/>
<rect x="1022" y="253" width="1" height="4" fill="#fff"/>
<rect x="1021" y="227" width="3" height="26" fill="#fff"/>
<rect x="1022" y="228" width="1" height="24" fill="#000"/>
<rect x="1027" y="225" width="1" height="23" fill="#fff"/>
<rect x="1026" y="232" width="3" height="3" fill="#0080ff"/>
<rect x="1033" y="230" width="1" height="33" fill="#fff"/>
<rect x="1032" y="231" width="3" height="32" fill="#0080ff"/>
<rect x="1038" y="245" width="1" height="19" fill="#fff"/>
<rect x="1037" y="254" width="3" height="4" fill="#0080ff"/>
<rect x="1044" y="242" width="1" height="2" fill="#fff"/>
<rect x="1044" y="259" width="1" height="3" fill="#fff"/>
<rect x="1043" y="244" width="3" height="15" fill="#fff"/>
<rect x="1044" y="245" width="1" height="13" fill="#000"/>
<rect x="1049" y="237" width="1" height="28" fill="#fff"/>
<rect x="1048" y="238" width="3" height="26" fill="#0080ff"/>
<rect x="1055" y="251" width="1" height="10" fill="#fff"/>
<rect x="1055" y="262" width="1" height="3" fill="#fff"/>
<rect x="1054" y="261" width="3" height="1" fill="#fff"/>
<rect x="1061" y="261" width="1" height="19" fill="#fff"/>
<rect x="1060" y="263" width="3" height="16" fill="#0080ff"/>
<rect x="1066" y="262" width="1" height="6" fill="#fff"/>
<rect x="1065" y="268" width="3" height="9" fill="#fff"/>
<rect x="1066" y="269" width="1" height="7" fill="#000"/>
<rect x="1072" y="258" width="1" height="25" fill="#fff"/>
<rect x="1071" y="270" width="3" height="13" fill="#0080ff"/>
<rect x="1077" y="240" width="1" height="19" fill="#fff"/>
<rect x="1076" y="259" width="3" height="19" fill="#fff"/>
<rect x="1077" y="260" width="1" height="17" fill="#000"/>
<rect x="1083" y="262" width="1" height="34" fill="#fff"/>
<rect x="1082" y="263" width="3" height="26" fill="#0080ff"/>
<rect x="1089" y="312" width="1" height="78" fill="#fff"/>
<rect x="1088" y="312" width="3" height="78" fill="#0080ff"/>
<rect x="1094" y="427" width="1" height="51" fill="#fff"/>
<rect x="1093" y="427" width="3" height="42" fill="#0080ff"/>
<rect x="1100" y="430" width="1" height="18" fill="#fff"/>
<rect x="1100" y="457" width="1" height="13" fill="#fff"/>
<rect x="1099" y="448" width="3" height="9" fill="#fff"/>
<rect x="1100" y="449" width="1" height="7" fill="#000"/>
<rect x="1105" y="438" width="1" height="30" fill="#fff"/>
<rect x="1104" y="446" width="3" height="22" fill="#0080ff"/>
<rect x="1111" y="456" width="1" height="30" fill="#fff"/>
<rect x="1110" y="459" width="3" height="20" fill="#0080ff"/>
<rect x="1116" y="469" width="1" height="10" fill="#fff"/>
<rect x="1115" y="476" width="3" height="1" fill="#0080ff"/>
<rect x="1122" y="475" width="1" height="15" fill="#fff"/>
<rect x="1121" y="477" width="3" height="9" fill="#0080ff"/>
<rect x="1128" y="478" width="1" height="12" fill="#fff"/>
<rect x="1127" y="484" width="3" height="6" fill="#0080ff"/>
<rect x="1133" y="453" width="1" height="1" fill="#fff"/>
<rect x="1133" y="487" width="1" height="2" fill="#fff"/>
<rect x="1132" y="454" width="3" height="33" fill="#fff"/>
<rect x="1133" y="455" width="1" height="31" fill="#000"/>
<rect x="1139" y="445" width="1" height="17" fill="#fff"/>
<rect x="1138" y="451" width="3" height="8" fill="#0080ff"/>
<rect x="1144" y="459" width="1" height="3" fill="#fff"/>
<rect x="1144" y="463" width="1" height="5" fill="#fff"/>
<rect x="1143" y="462" width="3" height="1" fill="#fff"/>
<rect x="1150" y="457" width="1" height="20" fill="#fff"/>
<rect x="1149" y="463" width="3" height="14" fill="#0080ff"/>
<rect x="1156" y="468" width="1" height="1" fill="#fff"/>
<rect x="1156" y="478" width="1" height="11" fill="#fff"/>
<rect x="1155" y="469" width="3" height="9" fill="#fff"/>
<rect x="1156" y="470" width="1" height="7" fill="#000"/>
<rect x="1161" y="463" width="1" height="17" fill="#fff"/>
<rect x="1160" y="466" width="3" height="13" fill="#0080ff"/>
<rect x="1167" y="478" width="1" height="22" fill="#fff"/>
<rect x="1166" y="481" width="3" height="11" fill="#0080ff"/>
<rect x="1172" y="486" width="1" height="15" fill="#fff"/>
<rect x="1171" y="492" width="3" height="8" fill="#0080ff"/>
<rect x="1178" y="490" width="1" height="5" fill="#fff"/>
<rect x="1178" y="498" width="1" height="12" fill="#fff"/>
<rect x="1177" y="495" width="3" height="3" fill="#fff"/>
<rect x="1178" y="496" width="1" height="1" fill="#000"/>
<rect x="1182" y="465" width="3" height="28" fill="#fff"/>
<rect x="1183" y="466" width="1" height="26" fill="#000"/>
<rect x="1189" y="426" width="1" height="19" fill="#fff"/>
<rect x="1188" y="445" width="3" height="17" fill="#fff"/>
<rect x="1189" y="446" width="1" height="15" fill="#000"/>
<rect x="1195" y="446" width="1" height="14" fill="#fff"/>
<rect x="1194" y="449" width="3" height="9" fill="#0080ff"/>
<rect x="1200" y="454" width="1" height="31" fill="#fff"/>
<rect x="1199" y="455" width="3" height="30" fill="#0080ff"/>
<rect x="1206" y="467" width="1" height="10" fill="#fff"/>
<rect x="1205" y="477" width="3" height="9" fill="#fff"/>
<rect x="1206" y="478" width="1" height="7" fill="#000"/>
<rect x="1211" y="478" width="1" height="20" fill="#fff"/>
<rect x="1210" y="479" width="3" height="10" fill="#0080ff"/>
<rect x="1217" y="480" width="1" height="1" fill="#fff"/>
<rect x="1217" y="495" width="1" height="4" fill="#fff"/>
<rect x="1216" y="481" width="3" height="14" fill="#fff"/>
<rect x="1217" y="482" width="1" height="12" fill="#000"/>
<rect x="1223" y="473" width="1" height="3" fill="#fff"/>
<rect x="1223" y="483" width="1" height="2" fill="#fff"/>
<rect x="1222" y="476" width="3" height="7" fill="#fff"/>
<rect x="1223" y="477" width="1" height="5" fill="#000"/>
<rect x="1228" y="468" width="1" height="15" fill="#fff"/>
<rect x="1227" y="474" width="3" height="8" fill="#0080ff"/>
<rect x="1234" y="471" width="1" height="7" fill="#fff"/>
<rect x="1233" y="478" width="3" height="4" fill="#fff"/>
<rect x="1234" y="479" width="1" height="2" fill="#000"/>
<rect x="1239" y="465" width="1" height="5" fill="#fff"/>
<rect x="1239" y="474" width="1" height="1" fill="#fff"/>
<rect x="1238" y="470" width="3" height="4" fill="#fff"/>
<rect x="1239" y="471" width="1" height="2" fill="#000"/>
<rect x="1245" y="465" width="1" height="8" fill="#fff"/>
<rect x="1244" y="469" width="3" height="3" fill="#0080ff"/>
<rect x="1249" y="455" width="3" height="17" fill="#fff"/>
<rect x="1250" y="456" width="1" height="15" fill="#000"/>
<rect x="1256" y="449" width="1" height="20" fill="#fff"/>
<rect x="1255" y="455" width="3" height="12" fill="#0080ff"/>
<rect x="1262" y="462" width="1" height="10" fill="#fff"/>
<rect x="1261" y="464" width="3" height="3" fill="#0080ff"/>
<rect x="1267" y="454" width="1" height="4" fill="#fff"/>
<rect x="1266" y="458" width="3" height="9" fill="#fff"/>
<rect x="1267" y="459" width="1" height="7" fill="#000"/>
<rect x="1273" y="424" width="1" height="7" fill="#fff"/>
<rect x="1273" y="456" width="1" height="4" fill="#fff"/>
<rect x="1272" y="431" width="3" height="25" fill="#fff"/>
<rect x="1273" y="432" width="1" height="23" fill="#000"/>
<rect x="1278" y="422" width="1" height="4" fill="#fff"/>
<rect x="1278" y="429" width="1" height="9" fill="#fff"/>
<rect x="1277" y="426" width="3" height="3" fill="#fff"/>
<rect x="1278" y="427" width="1" height="1" fill="#000"/>
<rect x="1284" y="433" width="1" height="12" fill="#fff"/>
<rect x="1283" y="433" width="3" height="8" fill="#0080ff"/>
<rect x="1290" y="439" width="1" height="3" fill="#fff"/>
<rect x="1289" y="442" width="3" height="2" fill="#fff"/>
<rect x="1295" y="420" width="1" height="2" fill="#fff"/>
<rect x="1294" y="422" width="3" height="19" fill="#fff"/>
<rect x="1295" y="423" width="1" height="17" fill="#000"/>
<rect x="1301" y="406" width="1" height="6" fill="#fff"/>
<rect x="1300" y="412" width="3" height="3" fill="#fff"/>
<rect x="1301" y="413" width="1" height="1" fill="#000"/>
<rect x="1306" y="396" width="1" height="1" fill="#fff"/>
<rect x="1306" y="415" width="1" height="10" fill="#fff"/>
<rect x="1305" y="397" width="3" height="18" fill="#fff"/>
<rect x="1306" y="398" width="1" height="16" fill="#000"/>
<rect x="1312" y="390" width="1" height="16" fill="#fff"/>
<rect x="1311" y="392" width="3" height="14" fill="#0080ff"/>
<rect x="1317" y="401" width="1" height="13" fill="#fff"/>
<rect x="1316" y="403" width="3" height="7" fill="#0080ff"/>
<rect x="1323" y="396" width="1" height="38" fill="#fff"/>
<rect x="1322" y="404" width="3" height="30" fill="#0080ff"/>
<rect x="1329" y="422" width="1" height="10" fill="#fff"/>
<rect x="1328" y="406" width="3" height="16" fill="#fff"/>
<rect x="1329" y="407" width="1" height="14" fill="#000"/>
<rect x="1334" y="402" width="1" height="19" fill="#fff"/>
<rect x="1333" y="408" width="3" height="12" fill="#0080ff"/>
<rect x="1340" y="413" width="1" height="3" fill="#fff"/>
<rect x="1340" y="421" width="1" height="5" fill="#fff"/>
<rect x="1339" y="416" width="3" height="5" fill="#fff"/>
<rect x="1340" y="417" width="1" height="3" fill="#000"/>
<rect x="1345" y="410" width="1" height="11" fill="#fff"/>
<rect x="1344" y="415" width="3" height="2" fill="#0080ff"/>
<rect x="1351" y="394" width="1" height="5" fill="#fff"/>
<rect x="1350" y="399" width="3" height="14" fill="#fff"/>
<rect x="1351" y="400" width="1" height="12" fill="#000"/>
<rect x="1357" y="399" width="1" height="5" fill="#fff"/>
<rect x="1357" y="411" width="1" height="2" fill="#fff"/>
<rect x="1356" y="404" width="3" height="7" fill="#fff"/>
<rect x="1357" y="405" width="1" height="5" fill="#000"/>
<rect x="1362" y="394" width="1" height="23" fill="#fff"/>
<rect x="1361" y="401" width="3" height="5" fill="#0080ff"/>
<rect x="1368" y="395" width="1" height="3" fill="#fff"/>
<rect x="1368" y="407" width="1" height="1" fill="#fff"/>
<rect x="1367" y="398" width="3" height="9" fill="#fff"/>
<rect x="1368" y="399" width="1" height="7" fill="#000"/>
<rect x="1373" y="378" width="1" height="2" fill="#fff"/>
<rect x="1373" y="397" width="1" height="2" fill="#fff"/>
<rect x="1372" y="380" width="3" height="17" fill="#fff"/>
<rect x="1373" y="381" width="1" height="15" fill="#000"/>
<rect x="1379" y="372" width="1" height="6" fill="#fff"/>
<rect x="1379" y="380" width="1" height="5" fill="#fff"/>
<rect x="1378" y="378" width="3" height="2" fill="#fff"/>
<rect x="1384" y="371" width="1" height="2" fill="#fff"/>
<rect x="1384" y="378" width="1" height="5" fill="#fff"/>
<rect x="1383" y="373" width="3" height="5" fill="#fff"/>
<rect x="1384" y="374" width="1" height="3" fill="#000"/>
<rect x="1390" y="357" width="1" height="5" fill="#fff"/>
<rect x="1390" y="372" width="1" height="2" fill="#fff"/>
<rect x="1389" y="362" width="3" height="10" fill="#fff"/>
<rect x="1390" y="363" width="1" height="8" fill="#000"/>
<rect x="1396" y="351" width="1" height="14" fill="#fff"/>
<rect x="1395" y="359" width="3" height="5" fill="#0080ff"/>
<rect x="1401" y="356" width="1" height="17" fill="#fff"/>
<rect x="1400" y="357" width="3" height="14" fill="#0080ff"/>
<rect x="1407" y="359" width="1" height="4" fill="#fff"/>
<rect x="1407" y="376" width="1" height="9" fill="#fff"/>
<rect x="1406" y="363" width="3" height="13" fill="#fff"/>
<rect x="1407" y="364" width="1" height="11" fill="#000"/>
<rect x="1412" y="364" width="1" height="13" fill="#fff"/>
<rect x="1411" y="366" width="3" height="11" fill="#0080ff"/>
<rect x="1418" y="375" width="1" height="26" fill="#fff"/>
<rect x="1417" y="381" width="3" height="19" fill="#0080ff"/>
<rect x="1424" y="389" width="1" height="16" fill="#fff"/>
<rect x="1423" y="394" width="3" height="10" fill="#0080ff"/>
<rect x="1429" y="406" width="1" height="7" fill="#fff"/>
<rect x="1428" y="397" width="3" height="9" fill="#fff"/>
<rect x="1429" y="398" width="1" height="7" fill="#000"/>
<rect x="1435" y="379" width="1" height="2" fill="#fff"/>
<rect x="1435" y="394" width="1" height="3" fill="#fff"/>
<rect x="1434" y="381" width="3" height="13" fill="#fff"/>
<rect x="1435" y="382" width="1" height="11" fill="#000"/>
<rect x="1440" y="374" width="1" height="16" fill="#fff"/>
<rect x="1439" y="377" width="3" height="11" fill="#0080ff"/>
<rect x="1446" y="368" width="1" height="7" fill="#fff"/>
<rect x="1445" y="375" width="3" height="9" fill="#fff"/>
<rect x="1446" y="376" width="1" height="7" fill="#000"/>
<rect x="1451" y="370" width="1" height="21" fill="#fff"/>
<rect x="1450" y="371" width="3" height="20" fill="#0080ff"/>
<rect x="1457" y="381" width="1" height="20" fill="#fff"/>
<rect x="1456" y="384" width="3" height="13" fill="#0080ff"/>
<rect x="1463" y="394" width="1" height="1" fill="#fff"/>
<rect x="1463" y="398" width="1" height="6" fill="#fff"/>
<rect x="1462" y="395" width="3" height="3" fill="#fff"/>
<rect x="1463" y="396" width="1" height="1" fill="#000"/>
<rect x="1468" y="389" width="1" height="13" fill="#fff"/>
<rect x="1467" y="393" width="3" height="3" fill="#0080ff"/>
<rect x="1473" y="384" width="3" height="14" fill="#fff"/>
<rect x="1474" y="385" width="1" height="12" fill="#000"/>
<rect x="1479" y="382" width="1" height="10" fill="#fff"/>
<rect x="1478" y="383" width="3" height="8" fill="#0080ff"/>
<rect x="1484" y="370" width="3" height="22" fill="#fff"/>
<rect x="1485" y="371" width="1" height="20" fill="#000"/>
<rect x="1491" y="360" width="1" height="17" fill="#fff"/>
<rect x="1490" y="370" width="3" height="7" fill="#0080ff"/>
<rect x="1496" y="365" width="1" height="3" fill="#fff"/>
<rect x="1495" y="368" width="3" height="11" fill="#fff"/>
<rect x="1496" y="369" width="1" height="9" fill="#000"/>
<rect x="1502" y="367" width="1" height="14" fill="#fff"/>
<rect x="1501" y="370" width="3" height="10" fill="#0080ff"/>
<rect x="1507" y="374" width="1" height="9" fill="#fff"/>
<rect x="1506" y="378" width="3" height="2" fill="#0080ff"/>
<rect x="1513" y="364" width="1" height="19" fill="#fff"/>
<rect x="1512" y="378" width="3" height="3" fill="#0080ff"/>
<rect x="1518" y="377" width="1" height="18" fill="#fff"/>
<rect x="1517" y="379" width="3" height="14" fill="#0080ff"/>
<rect x="1524" y="380" width="1" height="5" fill="#fff"/>
<rect x="1524" y="391" width="1" height="1" fill="#fff"/>
<rect x="1523" y="385" width="3" height="6" fill="#fff"/>
<rect x="1524" y="386" width="1" height="4" fill="#000"/>
<rect x="1530" y="381" width="1" height="16" fill="#fff"/>
<rect x="1529" y="382" width="3" height="11" fill="#0080ff"/>
<rect x="1535" y="398" width="1" height="9" fill="#fff"/>
<rect x="1534" y="398" width="3" height="7" fill="#0080ff"/>
<rect x="1541" y="399" width="1" height="21" fill="#fff"/>
<rect x="1540" y="402" width="3" height="13" fill="#0080ff"/>
<rect x="1546" y="407" width="1" height="3" fill="#fff"/>
<rect x="1546" y="416" width="1" height="5" fill="#fff"/>
<rect x="1545" y="410" width="3" height="6" fill="#fff"/>
<rect x="1546" y="411" width="1" height="4" fill="#000"/>
<rect x="1552" y="404" width="1" height="11" fill="#fff"/>
<rect x="1551" y="410" width="3" height="4" fill="#0080ff"/>
<rect x="1558" y="407" width="1" height="1" fill="#fff"/>
<rect x="1557" y="396" width="3" height="11" fill="#fff"/>
<rect x="1558" y="397" width="1" height="9" fill="#000"/>
<rect x="1562" y="382" width="3" height="18" fill="#fff"/>
<rect x="1563" y="383" width="1" height="16" fill="#000"/>
<rect x="1569" y="368" width="1" height="7" fill="#fff"/>
<rect x="1569" y="378" width="1" height="7" fill="#fff"/>
<rect x="1568" y="375" width="3" height="3" fill="#fff"/>
<rect x="1569" y="376" width="1" height="1" fill="#000"/>
<rect x="1574" y="356" width="1" height="2" fill="#fff"/>
<rect x="1574" y="377" width="1" height="1" fill="#fff"/>
<rect x="1573" y="358" width="3" height="19" fill="#fff"/>
<rect x="1574" y="359" width="1" height="17" fill="#000"/>
<rect x="1580" y="342" width="1" height="4" fill="#fff"/>
<rect x="1579" y="346" width="3" height="11" fill="#fff"/>
<rect x="1580" y="347" width="1" height="9" fill="#000"/>
<rect x="1585" y="329" width="1" height="2" fill="#fff"/>
<rect x="1585" y="355" width="1" height="3" fill="#fff"/>
<rect x="1584" y="331" width="3" height="24" fill="#fff"/>
<rect x="1585" y="332" width="1" height="22" fill="#000"/>
<rect x="1591" y="321" width="1" height="20" fill="#fff"/>
<rect x="1590" y="332" width="3" height="6" fill="#0080ff"/>
<rect x="1597" y="327" width="1" height="20" fill="#fff"/>
<rect x="1596" y="339" width="3" height="7" fill="#0080ff"/>
<rect x="1602" y="334" width="1" height="4" fill="#fff"/>
<rect x="1601" y="338" width="3" height="9" fill="#fff"/>
<rect x="1602" y="339" width="1" height="7" fill="#000"/>
<rect x="1608" y="336" width="1" height="24" fill="#fff"/>
<rect x="1607" y="338" width="3" height="22" fill="#0080ff"/>
<rect x="1613" y="328" width="1" height="4" fill="#fff"/>
<rect x="1612" y="332" width="3" height="20" fill="#fff"/>
<rect x="1613" y="333" width="1" height="18" fill="#000"/>
<rect x="1619" y="325" width="1" height="13" fill="#fff"/>
<rect x="1618" y="331" width="3" height="5" fill="#0080ff"/>
<rect x="1625" y="306" width="1" height="10" fill="#fff"/>
<rect x="1624" y="316" width="3" height="17" fill="#fff"/>
<rect x="1625" y="317" width="1" height="15" fill="#000"/>
<rect x="1630" y="316" width="1" height="8" fill="#fff"/>
<rect x="1629" y="306" width="3" height="10" fill="#fff"/>
<rect x="1630" y="307" width="1" height="8" fill="#000"/>
<rect x="1636" y="297" width="1" height="18" fill="#fff"/>
<rect x="1635" y="301" width="3" height="9" fill="#0080ff"/>
<rect x="1641" y="314" width="1" height="11" fill="#fff"/>
<rect x="1640" y="317" width="3" height="6" fill="#0080ff"/>
<rect x="1647" y="315" width="1" height="2" fill="#fff"/>
<rect x="1647" y="324" width="1" height="6" fill="#fff"/>
<rect x="1646" y="317" width="3" height="7" fill="#fff"/>
<rect x="1647" y="318" width="1" height="5" fill="#000"/>
<rect x="1652" y="298" width="1" height="4" fill="#fff"/>
<rect x="1652" y="311" width="1" height="1" fill="#fff"/>
<rect x="1651" y="302" width="3" height="9" fill="#fff"/>
<rect x="1652" y="303" width="1" height="7" fill="#000"/>
<rect x="1658" y="293" width="1" height="12" fill="#fff"/>
<rect x="1657" y="297" width="3" height="5" fill="#0080ff"/>
<rect x="1664" y="292" width="1" height="16" fill="#fff"/>
<rect x="1663" y="301" width="3" height="5" fill="#0080ff"/>
<rect x="1669" y="299" width="1" height="14" fill="#fff"/>
<rect x="1668" y="304" width="3" height="8" fill="#0080ff"/>
<rect x="1675" y="301" width="1" height="2" fill="#fff"/>
<rect x="1675" y="310" width="1" height="6" fill="#fff"/>
<rect x="1674" y="303" width="3" height="7" fill="#fff"/>
<rect x="1675" y="304" width="1" height="5" fill="#000"/>
<rect x="1680" y="274" width="1" height="3" fill="#fff"/>
<rect x="1679" y="277" width="3" height="19" fill="#fff"/>
<rect x="1680" y="278" width="1" height="17" fill="#000"/>
<rect x="1686" y="271" width="1" height="12" fill="#fff"/>
<rect x="1685" y="273" width="3" height="8" fill="#0080ff"/>
<rect x="1692" y="267" width="1" height="9" fill="#fff"/>
<rect x="1691" y="276" width="3" height="5" fill="#fff"/>
<rect x="1692" y="277" width="1" height="3" fill="#000"/>
<rect x="1697" y="273" width="1" height="15" fill="#fff"/>
<rect x="1696" y="275" width="3" height="7" fill="#0080ff"/>
<rect x="1703" y="266" width="1" height="5" fill="#fff"/>
<rect x="1702" y="271" width="3" height="10" fill="#fff"/>
<rect x="1703" y="272" width="1" height="8" fill="#000"/>
<rect x="1708" y="269" width="1" height="22" fill="#fff"/>
<rect x="1707" y="272" width="3" height="19" fill="#0080ff"/>
<rect x="1714" y="287" width="1" height="34" fill="#fff"/>
<rect x="1713" y="290" width="3" height="31" fill="#0080ff"/>
<rect x="1719" y="324" width="1" height="3" fill="#fff"/>
<rect x="1718" y="305" width="3" height="19" fill="#fff"/>
<rect x="1719" y="306" width="1" height="17" fill="#000"/>
<rect x="1725" y="296" width="1" height="26" fill="#fff"/>
<rect x="1724" y="300" width="3" height="21" fill="#0080ff"/>
<rect x="1731" y="314" width="1" height="11" fill="#fff"/>
<rect x="1730" y="318" width="3" height="7" fill="#0080ff"/>
<rect x="1736" y="309" width="1" height="8" fill="#fff"/>
<rect x="1736" y="321" width="1" height="7" fill="#fff"/>
<rect x="1735" y="317" width="3" height="4" fill="#fff"/>
<rect x="1736" y="318" width="1" height="2" fill="#000"/>
<rect x="1742" y="314" width="1" height="18" fill="#fff"/>
<rect x="1741" y="322" width="3" height="8" fill="#0080ff"/>
<rect x="1747" y="316" width="1" height="16" fill="#fff"/>
<rect x="1746" y="324" width="3" height="5" fill="#0080ff"/>
<rect x="1753" y="320" width="1" height="18" fill="#fff"/>
<rect x="1752" y="321" width="3" height="14" fill="#0080ff"/>
<rect x="1759" y="343" width="1" height="23" fill="#fff"/>
<rect x="1758" y="343" width="3" height="21" fill="#0080ff"/>
<rect x="1764" y="351" width="1" height="13" fill="#fff"/>
<rect x="1763" y="356" width="3" height="5" fill="#0080ff"/>
<rect x="1770" y="355" width="1" height="4" fill="#fff"/>
<rect x="1769" y="338" width="3" height="17" fill="#fff"/>
<rect x="1770" y="339" width="1" height="15" fill="#000"/>
<rect x="1775" y="329" width="1" height="37" fill="#fff"/>
<rect x="1774" y="336" width="3" height="28" fill="#0080ff"/>
<rect x="1781" y="368" width="1" height="29" fill="#fff"/>
<rect x="1780" y="368" width="3" height="25" fill="#0080ff"/>
<rect x="1786" y="385" width="1" height="9" fill="#fff"/>
<rect x="1785" y="382" width="3" height="3" fill="#fff"/>
<rect x="1786" y="383" width="1" height="1" fill="#000"/>
<rect x="1792" y="383" width="1" height="10" fill="#fff"/>
<rect x="1791" y="384" width="3" height="6" fill="#0080ff"/>
<rect x="1798" y="372" width="1" height="3" fill="#fff"/>
<rect x="1797" y="375" width="3" height="9" fill="#fff"/>
<rect x="1798" y="376" width="1" height="7" fill="#000"/>
<rect x="1803" y="357" width="1" height="3" fill="#fff"/>
<rect x="1803" y="374" width="1" height="8" fill="#fff"/>
<rect x="1802" y="360" width="3" height="14" fill="#fff"/>
<rect x="1803" y="361" width="1" height="12" fill="#000"/>
<rect x="1809" y="357" width="1" height="6" fill="#fff"/>
<rect x="1808" y="363" width="3" height="4" fill="#fff"/>
<rect x="1809" y="364" width="1" height="2" fill="#000"/>
<rect x="1814" y="355" width="1" height="12" fill="#fff"/>
<rect x="1813" y="361" width="3" height="6" fill="#0080ff"/>
<rect x="1820" y="359" width="1" height="4" fill="#fff"/>
<rect x="1820" y="365" width="1" height="6" fill="#fff"/>
<rect x="1819" y="363" width="3" height="2" fill="#fff"/>
</g>
<g shape-rendering="crispEdges">
<rect x="201" y="45" width="1643" height="1" fill="#ff0000"/>
<rect x="201" y="161" width="1643" height="1" fill="#c0c0c0"/>
<rect x="201" y="233" width="1643" height="1" fill="#00ff00"/>
<rect x="201" y="291" width="1643" height="1" fill="#00ffff"/>
<rect x="201" y="349" width="1643" height="1" fill="#00ff00"/>
<rect x="201" y="421" width="1643" height="1" fill="#c0c0c0"/>
<rect x="201" y="537" width="1643" height="1" fill="#ff0000"/>
</g>
<rect x="1822" y="363" width="22" height="1" fill="#e08000" shape-rendering="crispEdges"/>
<path d="M0.0 263.2 L15.7 273.8 L23.6 279.5 L31.4 284.8 L33.8 286.3 L47.0 295.0 L55.7 299.8 L62.7 305.2 L67.5 309.1 L78.0 314.8 L81.3 316.6 L85.5 319.2 L89.7 321.8 L95.9 324.9 L102.2 328.6 L108.4 332.2 L114.7 335.3 L121.0 339.0 L127.2 342.3 L133.5 344.7 L139.7 347.8 L146.0 349.9 L152.2 352.0 L158.5 353.8 L162.7 354.4 L166.8 355.7 L173.1 358.3 L179.4 361.4 L185.6 365.1 L190.0 368.1 L195.2 371.1 L200.4 373.4 L205.6 375.2 L210.9 376.3 L217.1 378.6 L224.4 378.9 L231.7 380.5 L238.0 380.7 L244.2 380.5 L252.6 380.5 L260.9 380.5 L267.2 380.5 L273.4 381.3 L279.7 381.5 L285.9 381.7 L294.3 382.3 L300.5 382.3 L306.8 382.5 L313.0 383.1 L319.3 383.4 L324.5 383.8 L329.7 385.7 L336.0 386.9 L340.2 388.0 L346.4 388.0 L352.7 388.8 L358.9 390.0 L367.3 391.9 L375.6 393.8 L382.9 395.3 L390.4 396.5 L396.7 396.5 L402.9 397.7 L407.1 399.0 L413.4 399.3 L419.6 399.6 L425.9 399.6 L430.1 399.8 L436.3 400.6 L442.6 401.4 L446.7 401.7 L453.0 401.7 L463.4 401.7 L473.8 401.7 L484.3 401.7 L494.7 401.7 L503.0 401.7 L509.3 402.4 L515.6 403.8 L521.8 404.8 L526.0 405.5 L530.2 406.6 L536.4 406.9 L542.7 407.6 L546.8 408.4 L552.1 408.7 L553.5 408.8 L558.5 409.3 L564.5 409.4 L569.5 409.1 L575.5 407.9 L580.5 407.0 L586.5 406.2 L592.5 405.3 L597.5 404.7 L603.5 403.6 L608.5 402.0 L614.5 400.8 L620.5 400.0 L625.5 398.9 L631.5 397.7 L636.5 396.2 L642.5 395.0 L647.5 394.3 L653.5 393.0 L659.5 391.5 L664.5 390.0 L670.5 388.8 L675.5 387.8 L681.5 386.9 L687.5 385.7 L692.5 384.3 L698.5 382.8 L703.5 381.3 L709.5 379.6 L714.5 378.0 L720.5 376.3 L726.5 373.9 L731.5 371.5 L737.5 368.8 L742.5 365.8 L748.5 362.8 L754.5 359.4 L759.5 356.1 L765.5 352.7 L770.5 349.5 L776.5 346.3 L781.5 342.9 L787.5 339.5 L793.5 335.8 L798.5 332.0 L804.5 328.3 L809.5 324.7 L815.5 321.1 L821.5 317.4 L826.5 313.7 L832.5 310.4 L837.5 307.1 L843.5 303.7 L848.5 300.2 L854.5 296.8 L860.5 293.8 L865.5 290.8 L871.5 288.0 L876.5 285.6 L882.5 283.0 L888.5 280.5 L893.5 277.9 L899.5 275.2 L904.5 272.0 L910.5 269.0 L915.5 266.1 L921.5 263.2 L927.5 259.9 L932.5 256.5 L938.5 253.3 L943.5 250.2 L949.5 247.5 L955.5 245.0 L960.5 242.6 L966.5 240.3 L971.5 238.1 L977.5 236.0 L982.5 234.2 L988.5 232.7 L994.5 230.9 L999.5 229.3 L1005.5 227.2 L1010.5 225.3 L1016.5 223.6 L1022.5 221.6 L1027.5 219.8 L1033.5 218.1 L1038.5 216.6 L1044.5 215.3 L1049.5 214.3 L1055.5 213.4 L1061.5 212.2 L1066.5 210.7 L1072.5 209.0 L1077.5 207.4 L1083.5 206.0 L1089.5 205.4 L1094.5 205.7 L1100.5 206.1 L1105.5 206.7 L1111.5 207.4 L1116.5 208.0 L1122.5 209.4 L1128.5 211.2 L1133.5 213.5 L1139.5 215.8 L1144.5 218.4 L1150.5 221.1 L1156.5 223.2 L1161.5 225.9 L1167.5 229.2 L1172.5 232.5 L1178.5 235.3 L1183.5 238.0 L1189.5 240.5 L1195.5 243.5 L1200.5 246.5 L1206.5 248.9 L1211.5 251.9 L1217.5 254.8 L1223.5 257.5 L1228.5 260.1 L1234.5 262.4 L1239.5 264.7 L1245.5 267.3 L1250.5 269.8 L1256.5 272.5 L1262.5 275.4 L1267.5 278.2 L1273.5 280.7 L1278.5 283.2 L1284.5 286.0 L1290.5 288.5 L1295.5 291.1 L1301.5 293.6 L1306.5 296.0 L1312.5 298.4 L1317.5 300.8 L1323.5 303.7 L1329.5 306.5 L1334.5 309.5 L1340.5 312.6 L1345.5 315.5 L1351.5 318.6 L1357.5 322.0 L1362.5 325.5 L1368.5 328.7 L1373.5 331.7 L1379.5 334.7 L1384.5 337.4 L1390.5 339.7 L1396.5 342.2 L1401.5 344.8 L1407.5 347.2 L1412.5 349.7 L1418.5 352.1 L1424.5 354.4 L1429.5 356.6 L1435.5 358.1 L1440.5 360.0 L1446.5 361.5 L1451.5 363.4 L1457.5 365.4 L1463.5 367.9 L1468.5 370.1 L1474.5 372.2 L1479.5 374.3 L1485.5 376.5 L1491.5 378.8 L1496.5 380.7 L1502.5 382.8 L1507.5 384.9 L1513.5 386.8 L1518.5 388.7 L1524.5 390.4 L1530.5 392.3 L1535.5 394.0 L1541.5 395.8 L1546.5 397.2 L1552.5 398.7 L1558.5 400.0 L1563.5 401.4 L1569.5 402.8 L1574.5 403.9 L1580.5 405.1 L1585.5 406.0 L1591.5 406.8 L1597.5 407.6 L1602.5 408.6 L1608.5 409.5 L1613.5 410.3 L1619.5 410.8 L1625.5 411.3 L1630.5 411.5 L1636.5 412.0 L1641.5 412.4 L1647.5 411.6 L1652.5 410.0 L1658.5 408.5 L1664.5 406.9 L1669.5 405.2 L1675.5 403.5 L1680.5 401.4 L1686.5 399.3 L1692.5 397.5 L1697.5 395.8 L1703.5 393.9 L1708.5 392.0 L1714.5 390.5 L1719.5 388.8 L1725.5 387.1 L1731.5 385.3 L1736.5 383.5 L1742.5 382.2 L1747.5 381.0 L1753.5 379.8 L1759.5 378.6 L1764.5 377.4 L1770.5 375.9 L1775.5 374.8 L1781.5 373.9 L1786.5 372.9 L1792.5 372.0 L1798.5 371.1 L1803.5 370.0 L1809.5 369.0 L1814.5 368.0 L1820.5 367.0" fill="none" stroke="#00d8dc" stroke-width="3.2" stroke-linejoin="round" stroke-linecap="butt"/>
<path d="M0.0 375.7 L5.2 374.4 L10.4 373.2 L16.7 373.2 L20.9 370.8 L27.1 368.0 L33.4 365.6 L39.6 363.2 L45.9 360.9 L50.1 359.8 L54.2 357.8 L60.5 354.4 L66.7 351.5 L73.0 349.2 L77.2 347.8 L81.3 345.2 L85.5 342.3 L89.7 340.0 L95.9 337.9 L102.2 336.2 L106.4 335.3 L110.5 333.2 L116.8 331.5 L123.0 329.6 L129.3 329.1 L135.6 328.6 L139.7 328.3 L146.0 328.3 L152.2 328.3 L158.5 328.3 L164.8 328.9 L168.9 330.4 L175.2 332.7 L181.4 335.3 L184.5 336.9 L190.5 340.1 L195.5 345.1 L201.5 349.6 L206.5 354.1 L212.5 358.0 L218.5 362.7 L223.5 367.5 L229.5 372.1 L234.5 376.3 L240.5 380.1 L245.5 384.2 L251.5 388.4 L257.5 392.2 L262.5 396.5 L268.5 401.0 L273.5 405.7 L279.5 409.9 L285.5 413.8 L290.5 417.5 L296.5 420.5 L301.5 424.3 L307.5 428.0 L312.5 431.9 L318.5 435.6 L324.5 439.4 L329.5 443.2 L335.5 446.7 L340.5 450.3 L346.5 454.0 L352.5 457.4 L357.5 459.6 L363.5 460.9 L368.5 462.2 L374.5 463.1 L379.5 464.0 L385.5 463.4 L391.5 461.8 L396.5 460.0 L402.5 460.3 L407.5 460.7 L413.5 460.0 L419.5 458.7 L424.5 457.8 L430.5 457.2 L435.5 457.4 L441.5 457.6 L446.5 457.7 L452.5 457.0 L458.5 455.5 L463.5 454.4 L469.5 453.6 L474.5 453.0 L480.5 451.0 L486.5 448.4 L491.5 445.5 L497.5 442.1 L502.5 440.2 L508.5 438.7 L513.5 438.1 L519.5 436.8 L525.5 435.9 L530.5 435.4 L536.5 434.6 L541.5 432.8 L547.5 431.0 L553.5 429.2 L558.5 427.3 L564.5 423.0 L569.5 417.7 L575.5 410.2 L580.5 403.9 L586.5 397.1 L592.5 390.0 L597.5 384.3 L603.5 377.9 L608.5 370.2 L614.5 362.5 L620.5 356.2 L625.5 349.4 L631.5 342.0 L636.5 333.8 L642.5 326.6 L647.5 321.2 L653.5 314.2 L659.5 307.6 L664.5 300.9 L670.5 295.3 L675.5 291.7 L681.5 288.2 L687.5 284.0 L692.5 278.2 L698.5 271.8 L703.5 263.9 L709.5 256.6 L714.5 249.3 L720.5 241.4 L726.5 233.3 L731.5 226.7 L737.5 219.4 L742.5 212.1 L748.5 204.9 L754.5 199.5 L759.5 195.0 L765.5 192.9 L770.5 189.8 L776.5 187.3 L781.5 184.6 L787.5 180.6 L793.5 177.1 L798.5 174.2 L804.5 170.7 L809.5 166.9 L815.5 163.4 L821.5 160.2 L826.5 158.3 L832.5 156.8 L837.5 153.3 L843.5 151.0 L848.5 148.9 L854.5 146.6 L860.5 144.7 L865.5 142.7 L871.5 140.9 L876.5 141.2 L882.5 141.3 L888.5 142.1 L893.5 142.7 L899.5 143.1 L904.5 142.2 L910.5 141.9 L915.5 142.5 L921.5 142.3 L927.5 141.9 L932.5 141.6 L938.5 141.9 L943.5 142.1 L949.5 142.1 L955.5 143.3 L960.5 145.8 L966.5 148.8 L971.5 151.5 L977.5 154.4 L982.5 158.9 L988.5 165.0 L994.5 171.1 L999.5 176.9 L1005.5 181.3 L1010.5 186.1 L1016.5 190.5 L1022.5 193.3 L1027.5 196.8 L1033.5 201.1 L1038.5 205.1 L1044.5 208.6 L1049.5 211.8 L1055.5 214.3 L1061.5 217.2 L1066.5 218.4 L1072.5 220.7 L1077.5 221.9 L1083.5 224.3 L1089.5 230.2 L1094.5 239.6 L1100.5 247.8 L1105.5 256.2 L1111.5 265.1 L1116.5 274.7 L1122.5 284.5 L1128.5 293.8 L1133.5 302.0 L1139.5 310.7 L1144.5 318.7 L1150.5 326.8 L1156.5 334.0 L1161.5 342.1 L1167.5 349.9 L1172.5 357.5 L1178.5 364.1 L1183.5 370.2 L1189.5 375.2 L1195.5 381.8 L1200.5 388.9 L1206.5 395.7 L1211.5 403.4 L1217.5 410.6 L1223.5 416.9 L1228.5 423.5 L1234.5 430.4 L1239.5 436.4 L1245.5 442.6 L1250.5 447.8 L1256.5 453.6 L1262.5 459.1 L1267.5 464.9 L1273.5 469.1 L1278.5 470.2 L1284.5 469.3 L1290.5 469.2 L1295.5 467.8 L1301.5 465.9 L1306.5 463.5 L1312.5 461.2 L1317.5 458.8 L1323.5 458.2 L1329.5 456.6 L1334.5 455.4 L1340.5 453.6 L1345.5 452.1 L1351.5 449.7 L1357.5 447.2 L1362.5 444.4 L1368.5 441.5 L1373.5 439.0 L1379.5 437.1 L1384.5 434.6 L1390.5 431.0 L1396.5 427.6 L1401.5 424.2 L1407.5 420.7 L1412.5 417.8 L1418.5 415.4 L1424.5 413.2 L1429.5 411.0 L1435.5 408.3 L1440.5 406.4 L1446.5 403.7 L1451.5 401.4 L1457.5 399.6 L1463.5 398.6 L1468.5 397.7 L1474.5 396.0 L1479.5 394.5 L1485.5 393.0 L1491.5 392.0 L1496.5 391.1 L1502.5 390.4 L1507.5 389.5 L1513.5 387.9 L1518.5 387.6 L1524.5 386.5 L1530.5 385.9 L1535.5 385.5 L1541.5 386.0 L1546.5 386.2 L1552.5 386.4 L1558.5 386.3 L1563.5 386.4 L1569.5 386.3 L1574.5 385.9 L1580.5 385.4 L1585.5 384.4 L1591.5 383.5 L1597.5 383.0 L1602.5 381.8 L1608.5 380.7 L1613.5 378.5 L1619.5 376.7 L1625.5 374.8 L1630.5 372.4 L1636.5 370.5 L1641.5 368.5 L1647.5 366.1 L1652.5 363.4 L1658.5 360.7 L1664.5 358.4 L1669.5 356.0 L1675.5 354.1 L1680.5 351.1 L1686.5 348.5 L1692.5 345.5 L1697.5 342.6 L1703.5 339.4 L1708.5 336.4 L1714.5 334.5 L1719.5 331.9 L1725.5 329.4 L1731.5 326.8 L1736.5 324.0 L1742.5 321.6 L1747.5 319.6 L1753.5 318.2 L1759.5 317.9 L1764.5 317.9 L1770.5 317.7 L1775.5 318.7 L1781.5 320.3 L1786.5 321.4 L1792.5 322.9 L1798.5 323.3 L1803.5 324.1 L1809.5 324.9 L1814.5 326.4 L1820.5 328.1" fill="none" stroke="#fdf328" stroke-width="3.2" stroke-linejoin="round" stroke-linecap="butt"/>
<g shape-rendering="crispEdges" fill="#fff">
<rect x="1844" y="0" width="1" height="585"/>
<rect x="1844" y="590" width="1" height="197"/><rect x="1845" y="590" width="3" height="1"/>
<rect x="0" y="786" width="1848" height="1"/>
</g>
<g fill="#fff">
<path d="M1845 545.2L1853 548.2L1845 551.2z"/>
<path d="M1845 468.4L1853 471.4L1845 474.4z"/>
<path d="M1845 391.6L1853 394.6L1845 397.6z"/>
<path d="M1845 314.8L1853 317.8L1845 320.8z"/>
<path d="M1845 238.0L1853 241.0L1845 244.0z"/>
<path d="M1845 161.2L1853 164.2L1845 167.2z"/>
<path d="M1845 84.5L1853 87.5L1845 90.5z"/>
<path d="M1845 7.7L1853 10.7L1845 13.7z"/>
<rect x="1845" y="509" width="3" height="1" shape-rendering="crispEdges"/>
<rect x="1845" y="432" width="3" height="1" shape-rendering="crispEdges"/>
<rect x="1845" y="356" width="3" height="1" shape-rendering="crispEdges"/>
<rect x="1845" y="279" width="3" height="1" shape-rendering="crispEdges"/>
<rect x="1845" y="202" width="3" height="1" shape-rendering="crispEdges"/>
<rect x="1845" y="125" width="3" height="1" shape-rendering="crispEdges"/>
<rect x="1845" y="48" width="3" height="1" shape-rendering="crispEdges"/>
</g>
<g font-size="14px" fill="#fff">
<text x="1854.5" y="553.2" textLength="27.5" lengthAdjust="spacingAndGlyphs">1000</text>
<text x="1854.5" y="476.4" textLength="27.5" lengthAdjust="spacingAndGlyphs">1100</text>
<text x="1854.5" y="399.6" textLength="27.5" lengthAdjust="spacingAndGlyphs">1200</text>
<text x="1854.5" y="322.8" textLength="27.5" lengthAdjust="spacingAndGlyphs">1300</text>
<text x="1854.5" y="246.0" textLength="27.5" lengthAdjust="spacingAndGlyphs">1400</text>
<text x="1854.5" y="169.2" textLength="27.5" lengthAdjust="spacingAndGlyphs">1500</text>
<text x="1854.5" y="92.5" textLength="27.5" lengthAdjust="spacingAndGlyphs">1600</text>
<text x="1854.5" y="15.7" textLength="27.5" lengthAdjust="spacingAndGlyphs">1700</text>
</g>
<g fill="#fff">
<path d="M1845 766.3L1853 769.3L1845 772.3z"/>
<path d="M1845 733.7L1853 736.7L1845 739.7z"/>
<path d="M1845 701.1L1853 704.1L1845 707.1z"/>
<path d="M1845 668.6L1853 671.6L1845 674.6z"/>
<path d="M1845 636.0L1853 639.0L1845 642.0z"/>
<path d="M1845 603.4L1853 606.4L1845 609.4z"/>
<rect x="1845" y="752" width="3" height="1" shape-rendering="crispEdges"/>
<rect x="1845" y="720" width="3" height="1" shape-rendering="crispEdges"/>
<rect x="1845" y="687" width="3" height="1" shape-rendering="crispEdges"/>
<rect x="1845" y="655" width="3" height="1" shape-rendering="crispEdges"/>
<rect x="1845" y="622" width="3" height="1" shape-rendering="crispEdges"/>
</g>
<g font-size="14px" fill="#fff">
<text x="1854.5" y="774.3" textLength="7" lengthAdjust="spacingAndGlyphs">0</text>
<text x="1854.5" y="741.7" textLength="14" lengthAdjust="spacingAndGlyphs">20</text>
<text x="1854.5" y="709.1" textLength="14" lengthAdjust="spacingAndGlyphs">40</text>
<text x="1854.5" y="676.6" textLength="14" lengthAdjust="spacingAndGlyphs">60</text>
<text x="1854.5" y="644.0" textLength="14" lengthAdjust="spacingAndGlyphs">80</text>
<text x="1854.5" y="611.4" textLength="21" lengthAdjust="spacingAndGlyphs">100</text>
</g>
<path d="M1846.5 328.5L1851 320.5H1915V337H1851z" fill="#fff02a"/>
<text x="1853.5" y="333.7" font-size="14px" fill="#000" textLength="60.5" lengthAdjust="spacingAndGlyphs">1286.6941</text>
<path d="M1846.5 367.5L1851 359.5H1915V376H1851z" fill="#00d2d8"/>
<path d="M1846.5 363.5L1851 355H1915V371.5H1851z" fill="#fff"/>
<text x="1853.5" y="368.5" font-size="14px" fill="#000" textLength="45" lengthAdjust="spacingAndGlyphs">1240.20</text>
<path d="M1846.5 696L1851 688H1915V704.5H1851z" fill="#fff"/>
<text x="1853.5" y="701.5" font-size="14px" fill="#000" textLength="45" lengthAdjust="spacingAndGlyphs">44.7844</text>
<rect x="1608" y="463" width="219" height="64" rx="3" fill="#0e0e0e"/>
<g font-size="11.5px" fill="#fff">
<text x="1647" y="480.3" textLength="149" lengthAdjust="spacingAndGlyphs">Daily 11/3/2015 - 10/5/2021</text>
<text x="1639" y="493.3" textLength="125" lengthAdjust="spacingAndGlyphs">XBANK Index - Last Price</text>
<text x="1770.5" y="493.3" textLength="38.5" lengthAdjust="spacingAndGlyphs">1240.20</text>
<text x="1639" y="506.3" textLength="63" lengthAdjust="spacingAndGlyphs">SMAVG (100)</text>
<text x="1709.5" y="506.3" textLength="44" lengthAdjust="spacingAndGlyphs">on Close</text>
<text x="1770.5" y="506.3" textLength="44.5" lengthAdjust="spacingAndGlyphs">1235.989</text>
<text x="1639" y="519.3" textLength="57" lengthAdjust="spacingAndGlyphs">SMAVG (34)</text>
<text x="1703.5" y="519.3" textLength="44" lengthAdjust="spacingAndGlyphs">on Close</text>
<text x="1770.5" y="519.3" textLength="50.5" lengthAdjust="spacingAndGlyphs">1286.6941</text>
</g>
<g shape-rendering="crispEdges">
<rect x="1624" y="483" width="10" height="10" fill="#fff"/>
<rect x="1624" y="496" width="10" height="10" fill="#00d2d8"/>
<rect x="1624" y="509" width="10" height="10" fill="#fff02a"/>
<path d="M1614.5 485.5h6v6h-6zM1616 488.5h3M1617.5 491.5v23.5h3M1617.5 502.5h3" fill="none" stroke="#8a8a8a" stroke-width="1"/>
</g>
<rect x="0" y="585" width="1915" height="5" fill="#2c2c2c"/><rect x="0" y="586" width="1915" height="3" fill="#4a4a4a"/>
<rect x="949" y="586" width="16" height="3" fill="#404040"/><rect x="950" y="586" width="14" height="1" fill="#a4a4a4"/><rect x="950" y="588" width="14" height="1" fill="#a4a4a4"/>
<rect x="3" y="594" width="210" height="25" rx="3" fill="#0e0e0e"/>
<rect x="10" y="601" width="10" height="10" fill="#fff"/>
<g font-size="11.5px" fill="#fff"><text x="25" y="611" textLength="41" lengthAdjust="spacingAndGlyphs">RSI (14)</text><text x="75" y="611" textLength="87.5" lengthAdjust="spacingAndGlyphs">on Close (XBANK)</text><text x="167.7" y="611" textLength="39" lengthAdjust="spacingAndGlyphs">44.7844</text></g>
<path d="M25.9 655.5 L28.5 651.5 L31.0 655.5z" fill="url(#gr)"/>
<path d="M487.4 655.5 L491.5 654.0 L497.5 652.8 L498.0 655.5z" fill="url(#gr)"/>
<path d="M568.9 655.5 L569.5 654.6 L575.5 641.3 L580.5 641.3 L586.5 638.6 L592.5 639.5 L595.9 655.5z" fill="url(#gr)"/>
<path d="M602.9 655.5 L603.5 654.6 L608.5 648.8 L614.5 650.1 L617.0 655.5z" fill="url(#gr)"/>
<path d="M780.2 655.5 L781.5 654.9 L781.9 655.5z" fill="url(#gr)"/>
<path d="M792.9 655.5 L793.5 654.5 L798.5 649.4 L804.5 646.4 L807.6 655.5z" fill="url(#gr)"/>
<path d="M1680.4 655.5 L1680.5 655.4 L1680.8 655.5z" fill="url(#gr)"/>
<path d="M171.5 720.5 L173.5 722.9 L178.5 724.7 L184.5 731.8 L190.5 730.2 L195.5 737.6 L201.5 731.1 L206.5 730.3 L208.6 720.5z" fill="url(#gg)"/>
<path d="M1088.2 720.5 L1089.5 724.7 L1094.5 733.9 L1100.5 727.0 L1105.5 729.2 L1111.5 730.5 L1116.5 729.8 L1122.5 730.9 L1128.5 731.4 L1132.3 720.5z" fill="url(#gg)"/>
<path d="M1148.7 720.5 L1150.5 721.3 L1152.0 720.5z" fill="url(#gg)"/>
<path d="M1162.8 720.5 L1167.5 722.5 L1172.5 724.2 L1178.5 721.5 L1178.8 720.5z" fill="url(#gg)"/>
<path d="M0.5 681.2 L5.5 672.0 L11.5 676.9 L17.5 674.7 L22.5 660.6 L28.5 651.5 L33.5 659.3 L39.5 675.5 L44.5 675.3 L50.5 674.8 L56.5 661.0 L61.5 665.1 L67.5 676.4 L72.5 673.4 L78.5 682.0 L84.5 672.8 L89.5 677.8 L95.5 684.6 L100.5 695.8 L106.5 699.2 L111.5 688.4 L117.5 693.5 L123.5 687.6 L128.5 690.8 L134.5 690.6 L139.5 691.7 L145.5 691.0 L151.5 690.3 L156.5 692.0 L162.5 698.9 L167.5 715.5 L173.5 722.9 L178.5 724.7 L184.5 731.8 L190.5 730.2 L195.5 737.6 L201.5 731.1 L206.5 730.3 L212.5 702.7 L218.5 703.6 L223.5 707.1 L229.5 711.8 L234.5 706.3 L240.5 699.8 L245.5 691.8 L251.5 695.3 L257.5 697.1 L262.5 701.0 L268.5 708.2 L273.5 701.6 L279.5 696.0 L285.5 699.1 L290.5 705.6 L296.5 697.6 L301.5 698.6 L307.5 702.7 L312.5 699.8 L318.5 697.9 L324.5 700.9 L329.5 700.5 L335.5 694.6 L340.5 696.9 L346.5 698.9 L352.5 699.4 L357.5 701.2 L363.5 700.2 L368.5 702.1 L374.5 714.1 L379.5 709.7 L385.5 701.1 L391.5 676.0 L396.5 672.8 L402.5 682.3 L407.5 685.9 L413.5 673.6 L419.5 673.1 L424.5 674.6 L430.5 671.6 L435.5 678.5 L441.5 682.8 L446.5 685.0 L452.5 677.1 L458.5 671.9 L463.5 676.3 L469.5 673.8 L474.5 682.8 L480.5 670.0 L486.5 655.8 L491.5 654.0 L497.5 652.8 L502.5 678.1 L508.5 683.7 L513.5 699.2 L519.5 688.2 L525.5 690.5 L530.5 695.8 L536.5 694.2 L541.5 681.1 L547.5 682.9 L553.5 682.2 L558.5 681.2 L564.5 662.5 L569.5 654.6 L575.5 641.3 L580.5 641.3 L586.5 638.6 L592.5 639.5 L597.5 663.4 L603.5 654.6 L608.5 648.8 L614.5 650.1 L620.5 663.2 L625.5 662.1 L631.5 660.1 L636.5 655.9 L642.5 663.0 L647.5 678.4 L653.5 669.5 L659.5 671.4 L664.5 673.7 L670.5 677.7 L675.5 685.4 L681.5 684.5 L687.5 677.6 L692.5 675.1 L698.5 673.2 L703.5 670.3 L709.5 669.0 L714.5 670.9 L720.5 669.6 L726.5 666.0 L731.5 674.8 L737.5 668.8 L742.5 669.1 L748.5 669.1 L754.5 671.1 L759.5 669.5 L765.5 666.0 L770.5 656.8 L776.5 657.3 L781.5 654.9 L787.5 664.8 L793.5 654.5 L798.5 649.4 L804.5 646.4 L809.5 661.2 L815.5 663.0 L821.5 662.8 L826.5 671.8 L832.5 685.4 L837.5 680.4 L843.5 679.4 L848.5 683.7 L854.5 684.5 L860.5 695.4 L865.5 704.0 L871.5 704.2 L876.5 717.4 L882.5 707.0 L888.5 711.3 L893.5 704.0 L899.5 698.2 L904.5 684.6 L910.5 690.3 L915.5 694.4 L921.5 692.6 L927.5 683.1 L932.5 684.4 L938.5 691.5 L943.5 692.2 L949.5 687.2 L955.5 697.2 L960.5 701.0 L966.5 707.1 L971.5 698.3 L977.5 704.9 L982.5 708.9 L988.5 716.2 L994.5 709.7 L999.5 713.9 L1005.5 698.0 L1010.5 700.2 L1016.5 701.8 L1022.5 693.9 L1027.5 696.4 L1033.5 704.4 L1038.5 702.3 L1044.5 696.7 L1049.5 702.8 L1055.5 701.5 L1061.5 706.8 L1066.5 701.9 L1072.5 706.4 L1077.5 696.0 L1083.5 705.0 L1089.5 724.7 L1094.5 733.9 L1100.5 727.0 L1105.5 729.2 L1111.5 730.5 L1116.5 729.8 L1122.5 730.9 L1128.5 731.4 L1133.5 717.1 L1139.5 718.0 L1144.5 718.5 L1150.5 721.3 L1156.5 718.0 L1161.5 719.9 L1167.5 722.5 L1172.5 724.2 L1178.5 721.5 L1183.5 707.0 L1189.5 698.7 L1195.5 702.5 L1200.5 709.9 L1206.5 706.4 L1211.5 709.6 L1217.5 706.0 L1223.5 703.8 L1228.5 705.6 L1234.5 703.7 L1239.5 699.5 L1245.5 700.2 L1250.5 691.3 L1256.5 696.5 L1262.5 696.5 L1267.5 691.8 L1273.5 678.7 L1278.5 676.3 L1284.5 684.6 L1290.5 685.0 L1295.5 675.7 L1301.5 671.9 L1306.5 666.0 L1312.5 671.3 L1317.5 673.9 L1323.5 687.2 L1329.5 675.2 L1334.5 682.2 L1340.5 680.5 L1345.5 681.0 L1351.5 673.3 L1357.5 676.2 L1362.5 677.3 L1368.5 673.6 L1373.5 666.1 L1379.5 665.3 L1384.5 663.3 L1390.5 659.0 L1396.5 660.4 L1401.5 666.0 L1407.5 662.5 L1412.5 673.4 L1418.5 688.2 L1424.5 690.5 L1429.5 686.1 L1435.5 677.6 L1440.5 681.8 L1446.5 675.3 L1451.5 685.1 L1457.5 688.8 L1463.5 687.5 L1468.5 688.0 L1474.5 680.8 L1479.5 685.4 L1485.5 673.6 L1491.5 678.7 L1496.5 673.8 L1502.5 681.8 L1507.5 682.0 L1513.5 682.7 L1518.5 691.1 L1524.5 685.6 L1530.5 691.2 L1535.5 698.6 L1541.5 704.0 L1546.5 700.2 L1552.5 702.6 L1558.5 689.0 L1563.5 680.3 L1569.5 676.2 L1574.5 667.6 L1580.5 662.4 L1585.5 656.6 L1591.5 661.9 L1597.5 668.1 L1602.5 664.7 L1608.5 679.9 L1613.5 667.5 L1619.5 670.1 L1625.5 662.3 L1630.5 659.1 L1636.5 661.7 L1641.5 670.6 L1647.5 668.1 L1652.5 662.3 L1658.5 662.2 L1664.5 665.4 L1669.5 669.6 L1675.5 665.5 L1680.5 655.4 L1686.5 658.3 L1692.5 656.5 L1697.5 661.1 L1703.5 656.9 L1708.5 672.4 L1714.5 689.9 L1719.5 682.2 L1725.5 690.2 L1731.5 692.0 L1736.5 687.9 L1742.5 694.3 L1747.5 693.8 L1753.5 696.8 L1759.5 710.0 L1764.5 707.6 L1770.5 693.9 L1775.5 704.7 L1781.5 714.1 L1786.5 708.2 L1792.5 710.7 L1798.5 702.5 L1803.5 694.9 L1809.5 696.0 L1814.5 698.0 L1820.5 695.7" fill="none" stroke="#e8e8e8" stroke-width="1.1" stroke-linejoin="round"/>
<rect x="0" y="655" width="1844" height="1" fill="#ff0000" shape-rendering="crispEdges"/>
<rect x="0" y="720" width="1844" height="1" fill="#00f000" shape-rendering="crispEdges"/>
<g shape-rendering="crispEdges" fill="#fff">
<rect x="61" y="787" width="1" height="3"/>
<rect x="178" y="787" width="1" height="3"/>
<rect x="290" y="787" width="1" height="3"/>
<rect x="413" y="787" width="1" height="3"/>
<rect x="530" y="787" width="1" height="3"/>
<rect x="647" y="787" width="1" height="3"/>
<rect x="776" y="787" width="1" height="3"/>
<rect x="888" y="787" width="1" height="3"/>
<rect x="999" y="787" width="1" height="3"/>
<rect x="1128" y="787" width="1" height="3"/>
<rect x="1245" y="787" width="1" height="3"/>
<rect x="1345" y="787" width="1" height="3"/>
<rect x="1468" y="787" width="1" height="3"/>
<rect x="1563" y="787" width="1" height="3"/>
<rect x="1680" y="787" width="1" height="3"/>
<rect x="1803" y="787" width="1" height="3"/>
</g>
<rect x="776" y="803" width="1" height="17" fill="#aaa" shape-rendering="crispEdges"/>
<g font-size="14px" fill="#fff" text-anchor="middle">
<text x="120" y="800.7" textLength="17" lengthAdjust="spacingAndGlyphs">Jul</text>
<text x="234.4" y="800.7" textLength="21" lengthAdjust="spacingAndGlyphs">Aug</text>
<text x="351.6" y="800.7" textLength="21" lengthAdjust="spacingAndGlyphs">Sep</text>
<text x="471.7" y="800.7" textLength="20" lengthAdjust="spacingAndGlyphs">Oct</text>
<text x="588.9" y="800.7" textLength="21.5" lengthAdjust="spacingAndGlyphs">Nov</text>
<text x="711.7" y="800.7" textLength="21.5" lengthAdjust="spacingAndGlyphs">Dec</text>
<text x="832" y="800.7" textLength="20.5" lengthAdjust="spacingAndGlyphs">Jan</text>
<text x="944" y="800.7" textLength="21" lengthAdjust="spacingAndGlyphs">Feb</text>
<text x="1064" y="800.7" textLength="21" lengthAdjust="spacingAndGlyphs">Mar</text>
<text x="1186.9" y="800.7" textLength="19.5" lengthAdjust="spacingAndGlyphs">Apr</text>
<text x="1295.2" y="800.7" textLength="22.5" lengthAdjust="spacingAndGlyphs">May</text>
<text x="1406.9" y="800.7" textLength="20" lengthAdjust="spacingAndGlyphs">Jun</text>
<text x="1516" y="800.7" textLength="17" lengthAdjust="spacingAndGlyphs">Jul</text>
<text x="1622" y="800.7" textLength="21" lengthAdjust="spacingAndGlyphs">Aug</text>
<text x="1742" y="800.7" textLength="21" lengthAdjust="spacingAndGlyphs">Sep</text>
<text x="386.7" y="817" textLength="28" lengthAdjust="spacingAndGlyphs">2020</text>
<text x="1310" y="817" textLength="28" lengthAdjust="spacingAndGlyphs">2021</text>
</g>
<rect x="0" y="825" width="1915" height="4" fill="#1c1c1c"/>
<rect x="149" y="825" width="1" height="4" fill="#000"/><rect x="1032" y="825" width="1" height="4" fill="#000"/>
<rect x="1916.8" y="0" width="1.2" height="829" fill="#1e80dc"/>
</svg></body></html>
